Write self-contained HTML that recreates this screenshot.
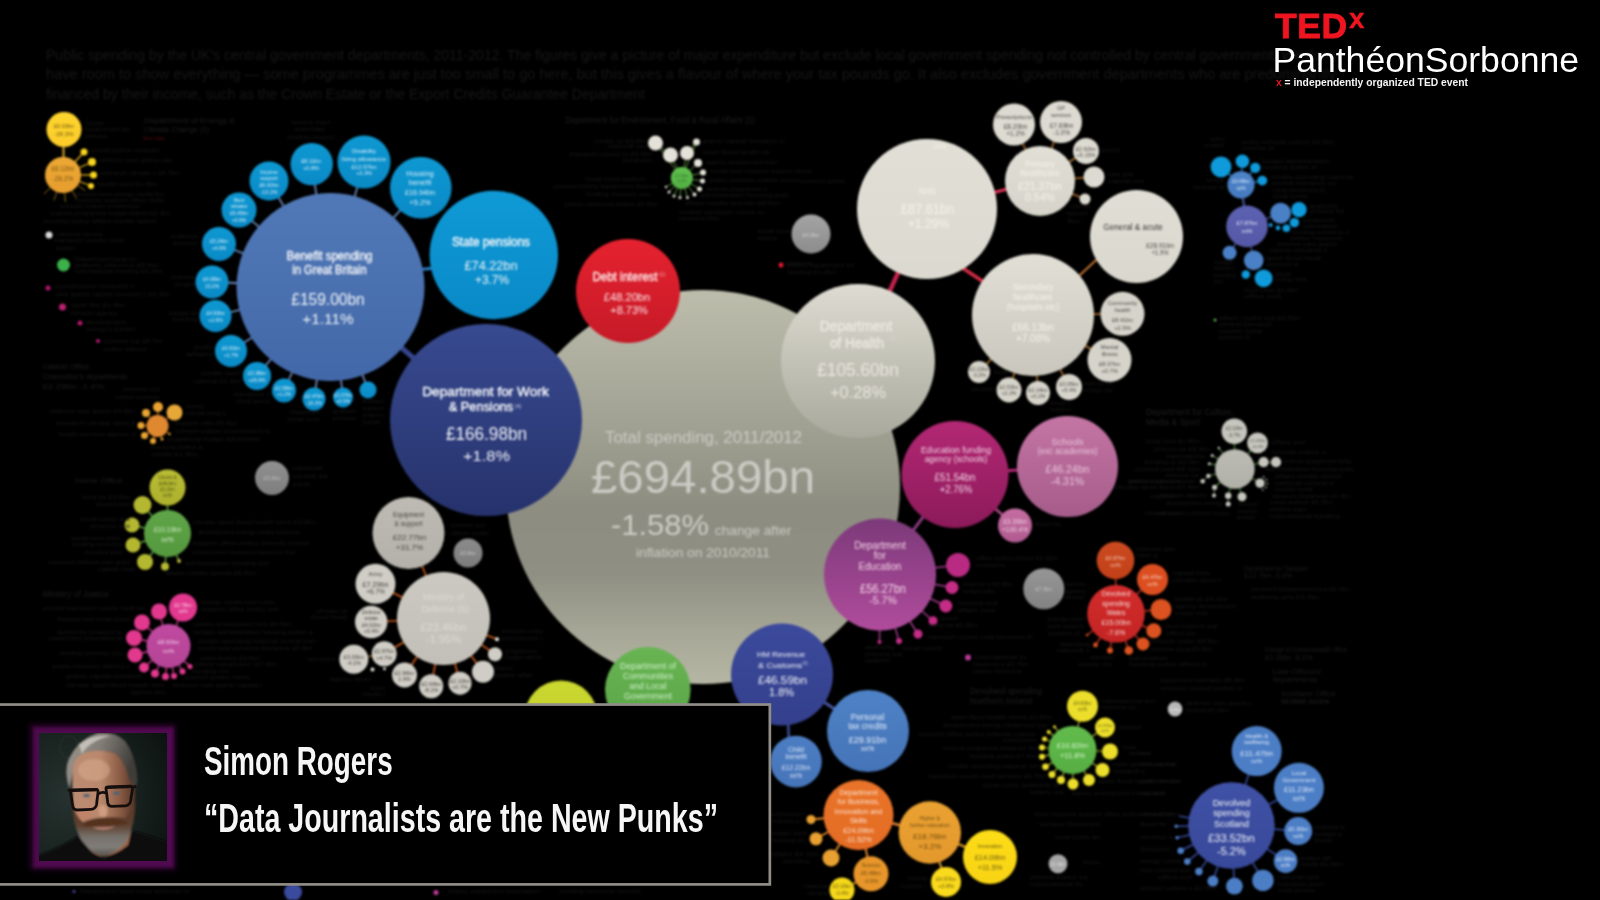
<!DOCTYPE html>
<html><head><meta charset="utf-8"><title>TEDx</title>
<style>
html,body{margin:0;padding:0;background:#000;}
body{width:1600px;height:900px;overflow:hidden;position:relative;font-family:"Liberation Sans",sans-serif;}
svg.chart{position:absolute;left:0;top:0;filter:blur(0.9px);}
#lt{position:absolute;left:0;top:706px;width:768px;height:177px;}
#ltbg{position:absolute;left:0;top:0;}
#ph{position:absolute;left:39px;top:27px;width:128px;height:128px;background:#16211f;box-shadow:0 0 3px 6.5px #500a4f,0 0 5px 9px rgba(80,10,79,.5);overflow:hidden;}
.nm{position:absolute;left:203.6px;color:#f6f6f6;font-weight:bold;font-size:40.5px;line-height:42px;white-space:nowrap;transform-origin:0 0;transform:scaleX(.687);}
#n1{top:34.4px;}
#n2{top:91px;transform:scaleX(.707);}
#ted{filter:blur(.35px);position:absolute;left:1274px;top:0;color:#fff;}
#ted .t{position:absolute;left:1px;top:6.3px;font-weight:bold;font-size:35.4px;color:#ee1520;letter-spacing:.7px;-webkit-text-stroke:.9px #ee1520;line-height:40px;white-space:nowrap;}
#ted .x{position:absolute;left:75px;top:-.8px;font-weight:bold;font-size:27.8px;color:#ee1520;-webkit-text-stroke:.4px #ee1520;line-height:40px;}
#ted .p{position:absolute;left:-1.6px;top:40px;font-size:35.6px;line-height:40px;white-space:nowrap;color:#fff;}
#ted .s{position:absolute;left:2px;top:75px;font-size:10.3px;line-height:16px;white-space:nowrap;color:#f4f4f4;font-weight:bold;}
#ted .s b{color:#e01a24;}
</style></head>
<body>
<svg class="chart" width="1600" height="900" viewBox="0 0 1600 900" font-family="Liberation Sans, sans-serif">
<defs>
<linearGradient id="g1" x1="0" y1="0" x2="0" y2="1"><stop offset="0" stop-color="#bcbdab"/><stop offset="0.3" stop-color="#a5a597"/><stop offset="0.55" stop-color="#8d8d81"/><stop offset="0.72" stop-color="#8f8f83"/><stop offset="0.87" stop-color="#a7a797"/><stop offset="1" stop-color="#b6b6a4"/></linearGradient>
<linearGradient id="g2" x1="0" y1="0" x2="0" y2="1"><stop offset="0" stop-color="#5179b7"/><stop offset="1" stop-color="#4368a9"/></linearGradient>
<linearGradient id="g3" x1="0" y1="0" x2="0" y2="1"><stop offset="0" stop-color="#0e98d2"/><stop offset="1" stop-color="#0a8ac6"/></linearGradient>
<linearGradient id="g4" x1="0" y1="0" x2="0" y2="1"><stop offset="0" stop-color="#0e98d2"/><stop offset="1" stop-color="#0a8ac6"/></linearGradient>
<linearGradient id="g5" x1="0" y1="0" x2="0" y2="1"><stop offset="0" stop-color="#0e98d2"/><stop offset="1" stop-color="#0a8ac6"/></linearGradient>
<linearGradient id="g6" x1="0" y1="0" x2="0" y2="1"><stop offset="0" stop-color="#0e98d2"/><stop offset="1" stop-color="#0a8ac6"/></linearGradient>
<linearGradient id="g7" x1="0" y1="0" x2="0" y2="1"><stop offset="0" stop-color="#0e98d2"/><stop offset="1" stop-color="#0a8ac6"/></linearGradient>
<linearGradient id="g8" x1="0" y1="0" x2="0" y2="1"><stop offset="0" stop-color="#0e98d2"/><stop offset="1" stop-color="#0a8ac6"/></linearGradient>
<linearGradient id="g9" x1="0" y1="0" x2="0" y2="1"><stop offset="0" stop-color="#0e98d2"/><stop offset="1" stop-color="#0a8ac6"/></linearGradient>
<linearGradient id="g10" x1="0" y1="0" x2="0" y2="1"><stop offset="0" stop-color="#0e98d2"/><stop offset="1" stop-color="#0a8ac6"/></linearGradient>
<linearGradient id="g11" x1="0" y1="0" x2="0" y2="1"><stop offset="0" stop-color="#0e98d2"/><stop offset="1" stop-color="#0a8ac6"/></linearGradient>
<linearGradient id="g12" x1="0" y1="0" x2="0" y2="1"><stop offset="0" stop-color="#0e98d2"/><stop offset="1" stop-color="#0a8ac6"/></linearGradient>
<linearGradient id="g13" x1="0" y1="0" x2="0" y2="1"><stop offset="0" stop-color="#0e98d2"/><stop offset="1" stop-color="#0a8ac6"/></linearGradient>
<linearGradient id="g14" x1="0" y1="0" x2="0" y2="1"><stop offset="0" stop-color="#0e98d2"/><stop offset="1" stop-color="#0a8ac6"/></linearGradient>
<linearGradient id="g15" x1="0" y1="0" x2="0" y2="1"><stop offset="0" stop-color="#0e98d2"/><stop offset="1" stop-color="#0a8ac6"/></linearGradient>
<linearGradient id="g16" x1="0" y1="0" x2="0" y2="1"><stop offset="0" stop-color="#0e98d2"/><stop offset="1" stop-color="#0a8ac6"/></linearGradient>
<linearGradient id="g17" x1="0" y1="0" x2="0" y2="1"><stop offset="0" stop-color="#0f9ad6"/><stop offset="1" stop-color="#0a8ac8"/></linearGradient>
<linearGradient id="g18" x1="0" y1="0" x2="0" y2="1"><stop offset="0" stop-color="#384a90"/><stop offset="1" stop-color="#26326c"/></linearGradient>
<linearGradient id="g19" x1="0" y1="0" x2="0" y2="1"><stop offset="0" stop-color="#e6222f"/><stop offset="1" stop-color="#c61a28"/></linearGradient>
<linearGradient id="g20" x1="0" y1="0" x2="0" y2="1"><stop offset="0" stop-color="#dedcd2"/><stop offset="1" stop-color="#a9a99d"/></linearGradient>
<linearGradient id="g21" x1="0" y1="0" x2="0" y2="1"><stop offset="0" stop-color="#e2e0d6"/><stop offset="1" stop-color="#dcdad0"/></linearGradient>
<linearGradient id="g22" x1="0" y1="0" x2="0" y2="1"><stop offset="0" stop-color="#e2e0d6"/><stop offset="1" stop-color="#d6d4ca"/></linearGradient>
<linearGradient id="g23" x1="0" y1="0" x2="0" y2="1"><stop offset="0" stop-color="#e2e0d6"/><stop offset="1" stop-color="#c9c7bd"/></linearGradient>
<linearGradient id="g24" x1="0" y1="0" x2="0" y2="1"><stop offset="0" stop-color="#e1dfd5"/><stop offset="1" stop-color="#dad8ce"/></linearGradient>
<linearGradient id="g25" x1="0" y1="0" x2="0" y2="1"><stop offset="0" stop-color="#a4a4a4"/><stop offset="1" stop-color="#8c8c8c"/></linearGradient>
<linearGradient id="g26" x1="0" y1="0" x2="0" y2="1"><stop offset="0" stop-color="#b32874"/><stop offset="1" stop-color="#8c1a5a"/></linearGradient>
<linearGradient id="g27" x1="0" y1="0" x2="0" y2="1"><stop offset="0" stop-color="#c475a4"/><stop offset="1" stop-color="#a65c8a"/></linearGradient>
<linearGradient id="g28" x1="0" y1="0" x2="0" y2="1"><stop offset="0" stop-color="#7c3a7a"/><stop offset="1" stop-color="#b04c9c"/></linearGradient>
<linearGradient id="g29" x1="0" y1="0" x2="0" y2="1"><stop offset="0" stop-color="#c66ea2"/><stop offset="1" stop-color="#b05a90"/></linearGradient>
<linearGradient id="g30" x1="0" y1="0" x2="0" y2="1"><stop offset="0" stop-color="#3c4a9c"/><stop offset="1" stop-color="#34408c"/></linearGradient>
<linearGradient id="g31" x1="0" y1="0" x2="0" y2="1"><stop offset="0" stop-color="#4e82c6"/><stop offset="1" stop-color="#4674b8"/></linearGradient>
<linearGradient id="g32" x1="0" y1="0" x2="0" y2="1"><stop offset="0" stop-color="#4c7ec4"/><stop offset="1" stop-color="#4674b8"/></linearGradient>
<linearGradient id="g33" x1="0" y1="0" x2="0" y2="1"><stop offset="0" stop-color="#68b452"/><stop offset="1" stop-color="#5aa648"/></linearGradient>
<linearGradient id="g34" x1="0" y1="0" x2="0" y2="1"><stop offset="0" stop-color="#cad830"/><stop offset="1" stop-color="#c0cc2a"/></linearGradient>
<linearGradient id="g35" x1="0" y1="0" x2="0" y2="1"><stop offset="0" stop-color="#cbc9c1"/><stop offset="1" stop-color="#c1bfb7"/></linearGradient>
<linearGradient id="g36" x1="0" y1="0" x2="0" y2="1"><stop offset="0" stop-color="#bdbbb3"/><stop offset="1" stop-color="#b3b1a9"/></linearGradient>
<linearGradient id="g37" x1="0" y1="0" x2="0" y2="1"><stop offset="0" stop-color="#8c8c8c"/><stop offset="1" stop-color="#7c7c7c"/></linearGradient>
<linearGradient id="g38" x1="0" y1="0" x2="0" y2="1"><stop offset="0" stop-color="#909090"/><stop offset="1" stop-color="#7e7e7e"/></linearGradient>
<linearGradient id="g39" x1="0" y1="0" x2="0" y2="1"><stop offset="0" stop-color="#ea742a"/><stop offset="1" stop-color="#e46c24"/></linearGradient>
<linearGradient id="g40" x1="0" y1="0" x2="0" y2="1"><stop offset="0" stop-color="#eaa232"/><stop offset="1" stop-color="#e4982c"/></linearGradient>
<linearGradient id="g41" x1="0" y1="0" x2="0" y2="1"><stop offset="0" stop-color="#fddc18"/><stop offset="1" stop-color="#f8d414"/></linearGradient>
<linearGradient id="g42" x1="0" y1="0" x2="0" y2="1"><stop offset="0" stop-color="#d22c2c"/><stop offset="1" stop-color="#c42424"/></linearGradient>
<linearGradient id="g43" x1="0" y1="0" x2="0" y2="1"><stop offset="0" stop-color="#cc4a20"/><stop offset="1" stop-color="#c24018"/></linearGradient>
<linearGradient id="g44" x1="0" y1="0" x2="0" y2="1"><stop offset="0" stop-color="#969696"/><stop offset="1" stop-color="#828282"/></linearGradient>
<linearGradient id="g45" x1="0" y1="0" x2="0" y2="1"><stop offset="0" stop-color="#4052a6"/><stop offset="1" stop-color="#38489a"/></linearGradient>
<linearGradient id="g46" x1="0" y1="0" x2="0" y2="1"><stop offset="0" stop-color="#62bc4c"/><stop offset="1" stop-color="#56ae44"/></linearGradient>
<linearGradient id="g47" x1="0" y1="0" x2="0" y2="1"><stop offset="0" stop-color="#5fa648"/><stop offset="1" stop-color="#55983e"/></linearGradient>
<linearGradient id="g48" x1="0" y1="0" x2="0" y2="1"><stop offset="0" stop-color="#b9bc34"/><stop offset="1" stop-color="#adb02c"/></linearGradient>
<linearGradient id="g49" x1="0" y1="0" x2="0" y2="1"><stop offset="0" stop-color="#c04aa0"/><stop offset="1" stop-color="#b44496"/></linearGradient>
<linearGradient id="g50" x1="0" y1="0" x2="0" y2="1"><stop offset="0" stop-color="#fed42e"/><stop offset="1" stop-color="#fccc2a"/></linearGradient>
<linearGradient id="g51" x1="0" y1="0" x2="0" y2="1"><stop offset="0" stop-color="#eca834"/><stop offset="1" stop-color="#e69e2e"/></linearGradient>
<linearGradient id="g52" x1="0" y1="0" x2="0" y2="1"><stop offset="0" stop-color="#5fc04e"/><stop offset="1" stop-color="#52b044"/></linearGradient>
<linearGradient id="g53" x1="0" y1="0" x2="0" y2="1"><stop offset="0" stop-color="#5c62b2"/><stop offset="1" stop-color="#5458a6"/></linearGradient>
<linearGradient id="g54" x1="0" y1="0" x2="0" y2="1"><stop offset="0" stop-color="#4c84ca"/><stop offset="1" stop-color="#467ac0"/></linearGradient>
<linearGradient id="g55" x1="0" y1="0" x2="0" y2="1"><stop offset="0" stop-color="#bcbcb4"/><stop offset="1" stop-color="#b0b0a8"/></linearGradient>
</defs>
<text x="46.0" y="59.5" font-size="14.2" fill="#171717" text-anchor="start" textLength="1290.0" lengthAdjust="spacingAndGlyphs">Public spending by the UK's central government departments, 2011-2012. The figures give a picture of major expenditure but exclude local government spending not controlled by central government. We don't</text>
<text x="46.0" y="79.0" font-size="14.2" fill="#171717" text-anchor="start" textLength="1290.0" lengthAdjust="spacingAndGlyphs">have room to show everything — some programmes are just too small to go here, but this gives a flavour of where your tax pounds go. It also excludes government departments who are predominantly</text>
<text x="46.0" y="98.5" font-size="14.2" fill="#171717" text-anchor="start" textLength="599.0" lengthAdjust="spacingAndGlyphs">financed by their income, such as the Crown Estate or the Export Credits Guarantee Department</text>
<circle cx="703.0" cy="487.0" r="197.0" fill="url(#g1)"/>
<line x1="330.5" y1="287.0" x2="486.0" y2="420.0" stroke="#34458c" stroke-width="5.0"/>
<line x1="415.0" y1="270.0" x2="435.0" y2="268.0" stroke="#2a7cc0" stroke-width="3.0"/>
<line x1="330.5" y1="287.0" x2="420.8" y2="187.7" stroke="#6a84b4" stroke-width="1.8"/>
<line x1="330.5" y1="287.0" x2="364.0" y2="162.0" stroke="#6a84b4" stroke-width="1.8"/>
<line x1="330.5" y1="287.0" x2="311.7" y2="164.1" stroke="#6a84b4" stroke-width="1.8"/>
<line x1="330.5" y1="287.0" x2="269.0" y2="181.0" stroke="#6a84b4" stroke-width="1.8"/>
<line x1="330.5" y1="287.0" x2="239.0" y2="210.0" stroke="#6a84b4" stroke-width="1.8"/>
<line x1="330.5" y1="287.0" x2="219.0" y2="244.0" stroke="#6a84b4" stroke-width="1.8"/>
<line x1="330.5" y1="287.0" x2="212.0" y2="282.0" stroke="#6a84b4" stroke-width="1.8"/>
<line x1="330.5" y1="287.0" x2="215.5" y2="316.0" stroke="#6a84b4" stroke-width="1.8"/>
<line x1="330.5" y1="287.0" x2="231.0" y2="351.0" stroke="#6a84b4" stroke-width="1.8"/>
<line x1="330.5" y1="287.0" x2="257.0" y2="376.0" stroke="#6a84b4" stroke-width="1.8"/>
<line x1="330.5" y1="287.0" x2="284.0" y2="390.5" stroke="#6a84b4" stroke-width="1.8"/>
<line x1="330.5" y1="287.0" x2="314.0" y2="399.0" stroke="#6a84b4" stroke-width="1.8"/>
<line x1="330.5" y1="287.0" x2="343.0" y2="397.5" stroke="#6a84b4" stroke-width="1.8"/>
<line x1="330.5" y1="287.0" x2="368.0" y2="390.0" stroke="#6a84b4" stroke-width="1.8"/>
<line x1="858.0" y1="361.0" x2="927.0" y2="209.0" stroke="#c4224a" stroke-width="4.5"/>
<line x1="927.0" y1="209.0" x2="1040.0" y2="181.0" stroke="#e8315a" stroke-width="3.0"/>
<line x1="955.0" y1="263.0" x2="992.0" y2="287.5" stroke="#d42a45" stroke-width="3.5"/>
<line x1="1101.0" y1="255.5" x2="1073.0" y2="281.5" stroke="#c87830" stroke-width="1.8"/>
<line x1="1040.0" y1="181.0" x2="1014.0" y2="124.5" stroke="#b07030" stroke-width="1.5"/>
<line x1="1040.0" y1="181.0" x2="1061.0" y2="122.0" stroke="#b07030" stroke-width="1.5"/>
<line x1="1040.0" y1="181.0" x2="1086.0" y2="151.0" stroke="#b07030" stroke-width="1.5"/>
<line x1="1040.0" y1="181.0" x2="1094.0" y2="177.0" stroke="#b07030" stroke-width="1.5"/>
<line x1="1040.0" y1="181.0" x2="1085.0" y2="199.0" stroke="#b07030" stroke-width="1.5"/>
<line x1="1033.0" y1="315.0" x2="1122.5" y2="313.8" stroke="#b87830" stroke-width="1.5"/>
<line x1="1033.0" y1="315.0" x2="1109.5" y2="360.0" stroke="#b87830" stroke-width="1.5"/>
<line x1="1033.0" y1="315.0" x2="979.0" y2="372.0" stroke="#b87830" stroke-width="1.5"/>
<line x1="1033.0" y1="315.0" x2="1009.0" y2="390.0" stroke="#b87830" stroke-width="1.5"/>
<line x1="1033.0" y1="315.0" x2="1038.0" y2="393.0" stroke="#b87830" stroke-width="1.5"/>
<line x1="1033.0" y1="315.0" x2="1069.0" y2="387.0" stroke="#b87830" stroke-width="1.5"/>
<line x1="955.0" y1="474.5" x2="1067.5" y2="466.5" stroke="#b02878" stroke-width="3.0"/>
<line x1="955.0" y1="474.5" x2="880.0" y2="574.5" stroke="#8a3a80" stroke-width="3.0"/>
<line x1="955.0" y1="474.5" x2="1015.0" y2="525.5" stroke="#b04a8a" stroke-width="2.5"/>
<line x1="880.0" y1="574.5" x2="958.0" y2="565.0" stroke="#a03a88" stroke-width="1.5"/>
<line x1="880.0" y1="574.5" x2="952.0" y2="587.5" stroke="#a03a88" stroke-width="1.5"/>
<line x1="880.0" y1="574.5" x2="945.8" y2="606.0" stroke="#a03a88" stroke-width="1.5"/>
<line x1="880.0" y1="574.5" x2="933.0" y2="620.8" stroke="#a03a88" stroke-width="1.5"/>
<line x1="880.0" y1="574.5" x2="918.0" y2="634.0" stroke="#a03a88" stroke-width="1.5"/>
<line x1="880.0" y1="574.5" x2="899.0" y2="641.0" stroke="#a03a88" stroke-width="1.5"/>
<line x1="880.0" y1="574.5" x2="879.5" y2="642.0" stroke="#a03a88" stroke-width="1.5"/>
<line x1="782.0" y1="674.5" x2="868.0" y2="731.0" stroke="#4656a2" stroke-width="2.8"/>
<line x1="788.0" y1="720.0" x2="789.0" y2="742.0" stroke="#3c4c94" stroke-width="2.6"/>
<line x1="443.5" y1="618.5" x2="408.5" y2="533.0" stroke="#d05a1e" stroke-width="1.6"/>
<line x1="443.5" y1="618.5" x2="375.5" y2="583.8" stroke="#d05a1e" stroke-width="1.6"/>
<line x1="443.5" y1="618.5" x2="371.2" y2="622.0" stroke="#d05a1e" stroke-width="1.6"/>
<line x1="443.5" y1="618.5" x2="384.2" y2="653.8" stroke="#d05a1e" stroke-width="1.6"/>
<line x1="443.5" y1="618.5" x2="404.5" y2="675.0" stroke="#d05a1e" stroke-width="1.6"/>
<line x1="443.5" y1="618.5" x2="431.2" y2="686.2" stroke="#d05a1e" stroke-width="1.6"/>
<line x1="443.5" y1="618.5" x2="460.0" y2="683.2" stroke="#d05a1e" stroke-width="1.6"/>
<line x1="443.5" y1="618.5" x2="483.0" y2="671.8" stroke="#d05a1e" stroke-width="1.6"/>
<line x1="443.5" y1="618.5" x2="495.0" y2="654.2" stroke="#d05a1e" stroke-width="1.6"/>
<line x1="443.5" y1="618.5" x2="497.0" y2="639.2" stroke="#d05a1e" stroke-width="1.6"/>
<line x1="353.8" y1="659.2" x2="384.2" y2="653.8" stroke="#a06a30" stroke-width="1.2"/>
<line x1="858.5" y1="815.0" x2="929.8" y2="832.5" stroke="#e08030" stroke-width="2.5"/>
<line x1="929.8" y1="832.5" x2="990.0" y2="857.0" stroke="#e0a030" stroke-width="2.0"/>
<line x1="929.8" y1="832.5" x2="946.0" y2="882.0" stroke="#d8a030" stroke-width="2.0"/>
<line x1="858.5" y1="815.0" x2="871.0" y2="873.8" stroke="#e0802a" stroke-width="2.0"/>
<line x1="871.0" y1="873.8" x2="842.0" y2="890.0" stroke="#d8a030" stroke-width="1.5"/>
<line x1="858.5" y1="815.0" x2="811.0" y2="819.5" stroke="#e08a2a" stroke-width="1.8"/>
<line x1="858.5" y1="815.0" x2="816.0" y2="838.8" stroke="#e08a2a" stroke-width="1.8"/>
<line x1="858.5" y1="815.0" x2="831.0" y2="858.0" stroke="#e08a2a" stroke-width="1.8"/>
<line x1="1116.0" y1="613.8" x2="1115.5" y2="560.5" stroke="#b0301e" stroke-width="1.5"/>
<line x1="1116.0" y1="613.8" x2="1152.5" y2="579.5" stroke="#b0301e" stroke-width="1.5"/>
<line x1="1116.0" y1="613.8" x2="1161.0" y2="609.5" stroke="#b0301e" stroke-width="1.5"/>
<line x1="1116.0" y1="613.8" x2="1153.8" y2="630.8" stroke="#b0301e" stroke-width="1.5"/>
<line x1="1116.0" y1="613.8" x2="1143.0" y2="644.0" stroke="#b0301e" stroke-width="1.5"/>
<line x1="1116.0" y1="613.8" x2="1128.8" y2="650.5" stroke="#b0301e" stroke-width="1.5"/>
<line x1="1116.0" y1="613.8" x2="1110.0" y2="650.5" stroke="#b0301e" stroke-width="1.5"/>
<line x1="1116.0" y1="613.8" x2="1095.5" y2="645.0" stroke="#b0301e" stroke-width="1.5"/>
<line x1="1116.0" y1="613.8" x2="1087.0" y2="635.0" stroke="#b0301e" stroke-width="1.5"/>
<line x1="1231.4" y1="825.5" x2="1256.7" y2="751.1" stroke="#364a9c" stroke-width="1.6"/>
<line x1="1231.4" y1="825.5" x2="1298.9" y2="787.8" stroke="#364a9c" stroke-width="1.6"/>
<line x1="1231.4" y1="825.5" x2="1298.2" y2="831.1" stroke="#364a9c" stroke-width="1.6"/>
<line x1="1231.4" y1="825.5" x2="1285.6" y2="861.1" stroke="#364a9c" stroke-width="1.6"/>
<line x1="1231.4" y1="825.5" x2="1262.9" y2="880.4" stroke="#364a9c" stroke-width="1.6"/>
<line x1="1231.4" y1="825.5" x2="1234.4" y2="886.2" stroke="#364a9c" stroke-width="1.6"/>
<line x1="1231.4" y1="825.5" x2="1212.9" y2="881.1" stroke="#364a9c" stroke-width="1.6"/>
<line x1="1231.4" y1="825.5" x2="1198.9" y2="871.6" stroke="#364a9c" stroke-width="1.6"/>
<line x1="1231.4" y1="825.5" x2="1187.3" y2="861.6" stroke="#364a9c" stroke-width="1.6"/>
<line x1="1231.4" y1="825.5" x2="1180.7" y2="850.7" stroke="#364a9c" stroke-width="1.6"/>
<line x1="1231.4" y1="825.5" x2="1177.1" y2="837.8" stroke="#364a9c" stroke-width="1.6"/>
<line x1="1231.4" y1="825.5" x2="1176.2" y2="826.2" stroke="#364a9c" stroke-width="1.6"/>
<line x1="1231.4" y1="825.5" x2="1179.0" y2="816.0" stroke="#364a9c" stroke-width="1.6"/>
<line x1="1072.5" y1="750.0" x2="1082.5" y2="706.3" stroke="#a8b030" stroke-width="1.2"/>
<line x1="1072.5" y1="750.0" x2="1105.0" y2="727.5" stroke="#a8b030" stroke-width="1.2"/>
<line x1="1072.5" y1="750.0" x2="1110.0" y2="751.5" stroke="#a8b030" stroke-width="1.2"/>
<line x1="1072.5" y1="750.0" x2="1102.5" y2="770.0" stroke="#a8b030" stroke-width="1.2"/>
<line x1="1072.5" y1="750.0" x2="1089.0" y2="780.0" stroke="#a8b030" stroke-width="1.2"/>
<line x1="1072.5" y1="750.0" x2="1073.0" y2="784.0" stroke="#a8b030" stroke-width="1.2"/>
<line x1="1072.5" y1="750.0" x2="1061.0" y2="780.0" stroke="#a8b030" stroke-width="1.2"/>
<line x1="1072.5" y1="750.0" x2="1052.0" y2="774.5" stroke="#a8b030" stroke-width="1.2"/>
<line x1="1072.5" y1="750.0" x2="1045.5" y2="766.7" stroke="#a8b030" stroke-width="1.2"/>
<line x1="1072.5" y1="750.0" x2="1042.0" y2="756.7" stroke="#a8b030" stroke-width="1.2"/>
<line x1="1072.5" y1="750.0" x2="1042.0" y2="747.5" stroke="#a8b030" stroke-width="1.2"/>
<line x1="1072.5" y1="750.0" x2="1044.5" y2="739.0" stroke="#a8b030" stroke-width="1.2"/>
<line x1="1072.5" y1="750.0" x2="1048.7" y2="732.0" stroke="#a8b030" stroke-width="1.2"/>
<line x1="1072.5" y1="750.0" x2="1054.5" y2="726.7" stroke="#a8b030" stroke-width="1.2"/>
<circle cx="330.5" cy="287.0" r="94.0" fill="url(#g2)"/>
<circle cx="420.8" cy="187.7" r="30.8" fill="url(#g3)"/>
<circle cx="364.0" cy="162.0" r="26.5" fill="url(#g4)"/>
<circle cx="311.7" cy="164.1" r="21.2" fill="url(#g5)"/>
<circle cx="269.0" cy="181.0" r="19.5" fill="url(#g6)"/>
<circle cx="239.0" cy="210.0" r="17.5" fill="url(#g7)"/>
<circle cx="219.0" cy="244.0" r="17.0" fill="url(#g8)"/>
<circle cx="212.0" cy="282.0" r="16.5" fill="url(#g9)"/>
<circle cx="215.5" cy="316.0" r="16.0" fill="url(#g10)"/>
<circle cx="231.0" cy="351.0" r="16.0" fill="url(#g11)"/>
<circle cx="257.0" cy="376.0" r="14.0" fill="url(#g12)"/>
<circle cx="284.0" cy="390.5" r="12.0" fill="url(#g13)"/>
<circle cx="314.0" cy="399.0" r="11.5" fill="url(#g14)"/>
<circle cx="343.0" cy="397.5" r="10.0" fill="url(#g15)"/>
<circle cx="368.0" cy="390.0" r="8.5" fill="url(#g16)"/>
<circle cx="493.8" cy="255.0" r="64.2" fill="url(#g17)"/>
<circle cx="486.0" cy="420.0" r="96.0" fill="url(#g18)"/>
<circle cx="628.0" cy="291.0" r="52.0" fill="url(#g19)"/>
<circle cx="858.0" cy="361.0" r="77.0" fill="url(#g20)"/>
<circle cx="927.0" cy="209.0" r="70.0" fill="url(#g21)"/>
<circle cx="1040.0" cy="181.0" r="35.0" fill="url(#g22)"/>
<circle cx="1033.0" cy="315.0" r="61.0" fill="url(#g23)"/>
<circle cx="1136.5" cy="236.5" r="46.5" fill="url(#g24)"/>
<circle cx="1014.0" cy="124.5" r="21.0" fill="#dddbd1"/>
<circle cx="1061.0" cy="122.0" r="21.0" fill="#dddbd1"/>
<circle cx="1086.0" cy="151.0" r="13.0" fill="#dddbd1"/>
<circle cx="1094.0" cy="177.0" r="10.5" fill="#dddbd1"/>
<circle cx="1085.0" cy="199.0" r="5.5" fill="#dddbd1"/>
<circle cx="1122.5" cy="313.8" r="22.0" fill="#d6d4ca"/>
<circle cx="1109.5" cy="360.0" r="22.0" fill="#d6d4ca"/>
<circle cx="979.0" cy="372.0" r="11.0" fill="#d6d4ca"/>
<circle cx="1009.0" cy="390.0" r="12.5" fill="#d6d4ca"/>
<circle cx="1038.0" cy="393.0" r="12.0" fill="#d6d4ca"/>
<circle cx="1069.0" cy="387.0" r="13.0" fill="#d6d4ca"/>
<circle cx="811.0" cy="234.0" r="19.5" fill="url(#g25)"/>
<circle cx="955.0" cy="474.5" r="53.5" fill="url(#g26)"/>
<circle cx="1067.5" cy="466.5" r="50.5" fill="url(#g27)"/>
<circle cx="880.0" cy="574.5" r="56.0" fill="url(#g28)"/>
<circle cx="1015.0" cy="525.5" r="17.0" fill="url(#g29)"/>
<circle cx="958.0" cy="565.0" r="12.0" fill="#b92a82"/>
<circle cx="952.0" cy="587.5" r="6.5" fill="#c42c86"/>
<circle cx="945.8" cy="606.0" r="6.5" fill="#c42c86"/>
<circle cx="933.0" cy="620.8" r="4.5" fill="#c42c86"/>
<circle cx="918.0" cy="634.0" r="4.5" fill="#c42c86"/>
<circle cx="899.0" cy="641.0" r="3.0" fill="#c42c86"/>
<circle cx="879.5" cy="642.0" r="2.0" fill="#c42c86"/>
<circle cx="782.0" cy="674.5" r="51.0" fill="url(#g30)"/>
<circle cx="868.0" cy="731.0" r="41.0" fill="url(#g31)"/>
<circle cx="796.0" cy="761.6" r="25.8" fill="url(#g32)"/>
<circle cx="647.8" cy="689.8" r="42.8" fill="url(#g33)"/>
<circle cx="561.0" cy="717.0" r="36.5" fill="url(#g34)"/>
<circle cx="443.5" cy="618.5" r="46.5" fill="url(#g35)"/>
<circle cx="408.5" cy="533.0" r="36.0" fill="url(#g36)"/>
<circle cx="375.5" cy="583.8" r="20.0" fill="#cfcdc5"/>
<circle cx="371.2" cy="622.0" r="16.2" fill="#cfcdc5"/>
<circle cx="384.2" cy="653.8" r="12.5" fill="#cfcdc5"/>
<circle cx="404.5" cy="675.0" r="12.5" fill="#cfcdc5"/>
<circle cx="431.2" cy="686.2" r="12.0" fill="#cfcdc5"/>
<circle cx="460.0" cy="683.2" r="11.5" fill="#cfcdc5"/>
<circle cx="483.0" cy="671.8" r="11.0" fill="#cfcdc5"/>
<circle cx="495.0" cy="654.2" r="7.0" fill="#cfcdc5"/>
<circle cx="497.0" cy="639.2" r="2.0" fill="#e8e6de"/>
<circle cx="353.8" cy="659.2" r="14.5" fill="#cfcdc5"/>
<circle cx="372.5" cy="669.5" r="2.0" fill="#deded6"/>
<circle cx="384.5" cy="668.8" r="1.5" fill="#deded6"/>
<circle cx="468.0" cy="553.0" r="14.5" fill="url(#g37)"/>
<circle cx="272.0" cy="478.0" r="17.0" fill="url(#g38)"/>
<circle cx="858.5" cy="815.0" r="35.0" fill="url(#g39)"/>
<circle cx="929.8" cy="832.5" r="31.2" fill="url(#g40)"/>
<circle cx="990.0" cy="857.0" r="27.0" fill="url(#g41)"/>
<circle cx="871.0" cy="873.8" r="17.5" fill="#e8962a"/>
<circle cx="946.0" cy="882.0" r="15.0" fill="#fada1c"/>
<circle cx="842.0" cy="890.0" r="12.5" fill="#f5d81a"/>
<circle cx="811.0" cy="819.5" r="4.5" fill="#e8a030"/>
<circle cx="816.0" cy="838.8" r="6.5" fill="#e8a030"/>
<circle cx="831.0" cy="858.0" r="8.5" fill="#e8a030"/>
<circle cx="1058.0" cy="863.8" r="9.5" fill="#a6a6a6"/>
<circle cx="1116.0" cy="613.8" r="28.8" fill="url(#g42)"/>
<circle cx="1115.5" cy="560.5" r="18.8" fill="url(#g43)"/>
<circle cx="1152.5" cy="579.5" r="15.5" fill="#dc4e20"/>
<circle cx="1161.0" cy="609.5" r="10.5" fill="#dc5220"/>
<circle cx="1153.8" cy="630.8" r="7.5" fill="#dc5220"/>
<circle cx="1143.0" cy="644.0" r="6.5" fill="#dc5220"/>
<circle cx="1128.8" cy="650.5" r="4.3" fill="#dc5220"/>
<circle cx="1110.0" cy="650.5" r="3.0" fill="#dc5220"/>
<circle cx="1095.5" cy="645.0" r="2.4" fill="#dc5220"/>
<circle cx="1087.0" cy="635.0" r="1.3" fill="#dc5220"/>
<circle cx="1043.8" cy="588.8" r="20.5" fill="url(#g44)"/>
<circle cx="1231.4" cy="825.5" r="43.3" fill="url(#g45)"/>
<circle cx="1256.7" cy="751.1" r="25.0" fill="#4c7ec6"/>
<circle cx="1298.9" cy="787.8" r="25.0" fill="#4c7ec6"/>
<circle cx="1298.2" cy="831.1" r="14.0" fill="#4c7ec6"/>
<circle cx="1285.6" cy="861.1" r="11.8" fill="#4c7ec6"/>
<circle cx="1262.9" cy="880.4" r="10.7" fill="#4c7ec6"/>
<circle cx="1234.4" cy="886.2" r="8.4" fill="#4c7ec6"/>
<circle cx="1212.9" cy="881.1" r="5.5" fill="#4c7ec6"/>
<circle cx="1198.9" cy="871.6" r="3.8" fill="#4c7ec6"/>
<circle cx="1187.3" cy="861.6" r="3.3" fill="#4c7ec6"/>
<circle cx="1180.7" cy="850.7" r="3.3" fill="#4c7ec6"/>
<circle cx="1177.1" cy="837.8" r="1.8" fill="#4c7ec6"/>
<circle cx="1176.2" cy="826.2" r="1.8" fill="#4c7ec6"/>
<circle cx="1175.0" cy="709.0" r="7.4" fill="#b8b8b8"/>
<circle cx="1072.5" cy="750.0" r="24.0" fill="url(#g46)"/>
<circle cx="1082.5" cy="706.3" r="15.5" fill="#ecde2a"/>
<circle cx="1105.0" cy="727.5" r="10.0" fill="#ecde2a"/>
<circle cx="1110.0" cy="751.5" r="8.0" fill="#ecde2a"/>
<circle cx="1102.5" cy="770.0" r="7.0" fill="#ecde2a"/>
<circle cx="1089.0" cy="780.0" r="6.0" fill="#ecde2a"/>
<circle cx="1073.0" cy="784.0" r="5.5" fill="#ecde2a"/>
<circle cx="1061.0" cy="780.0" r="4.0" fill="#ecde2a"/>
<circle cx="1052.0" cy="774.5" r="3.5" fill="#ecde2a"/>
<circle cx="1045.5" cy="766.7" r="3.3" fill="#ecde2a"/>
<circle cx="1042.0" cy="756.7" r="3.0" fill="#ecde2a"/>
<circle cx="1042.0" cy="747.5" r="3.0" fill="#ecde2a"/>
<circle cx="1044.5" cy="739.0" r="2.5" fill="#ecde2a"/>
<circle cx="1048.7" cy="732.0" r="2.0" fill="#ecde2a"/>
<circle cx="1054.5" cy="726.7" r="1.5" fill="#ecde2a"/>
<line x1="167.5" y1="533.5" x2="167.5" y2="487.5" stroke="#5c9a40" stroke-width="1.5"/>
<line x1="167.5" y1="533.5" x2="142.5" y2="505.0" stroke="#5c9a40" stroke-width="1.5"/>
<line x1="167.5" y1="533.5" x2="132.0" y2="525.0" stroke="#5c9a40" stroke-width="1.5"/>
<line x1="167.5" y1="533.5" x2="133.0" y2="545.0" stroke="#5c9a40" stroke-width="1.5"/>
<line x1="167.5" y1="533.5" x2="145.0" y2="562.0" stroke="#5c9a40" stroke-width="1.5"/>
<line x1="167.5" y1="533.5" x2="165.0" y2="566.5" stroke="#5c9a40" stroke-width="1.5"/>
<line x1="167.5" y1="533.5" x2="179.0" y2="561.0" stroke="#5c9a40" stroke-width="1.5"/>
<circle cx="167.5" cy="533.5" r="23.5" fill="url(#g47)"/>
<circle cx="167.5" cy="487.5" r="18.0" fill="url(#g48)"/>
<circle cx="142.5" cy="505.0" r="9.0" fill="#b4b830"/>
<circle cx="132.0" cy="525.0" r="7.5" fill="#b4b830"/>
<circle cx="133.0" cy="545.0" r="7.5" fill="#b4b830"/>
<circle cx="145.0" cy="562.0" r="8.0" fill="#b4b830"/>
<circle cx="165.0" cy="566.5" r="4.0" fill="#b4b830"/>
<circle cx="179.0" cy="561.0" r="2.0" fill="#b4b830"/>
<line x1="168.5" y1="646.0" x2="183.0" y2="607.5" stroke="#c83888" stroke-width="1.3"/>
<line x1="168.5" y1="646.0" x2="159.0" y2="611.5" stroke="#c83888" stroke-width="1.3"/>
<line x1="168.5" y1="646.0" x2="142.0" y2="622.5" stroke="#c83888" stroke-width="1.3"/>
<line x1="168.5" y1="646.0" x2="134.0" y2="638.0" stroke="#c83888" stroke-width="1.3"/>
<line x1="168.5" y1="646.0" x2="135.0" y2="655.0" stroke="#c83888" stroke-width="1.3"/>
<line x1="168.5" y1="646.0" x2="144.0" y2="667.5" stroke="#c83888" stroke-width="1.3"/>
<line x1="168.5" y1="646.0" x2="155.0" y2="673.5" stroke="#c83888" stroke-width="1.3"/>
<line x1="168.5" y1="646.0" x2="165.5" y2="676.5" stroke="#c83888" stroke-width="1.3"/>
<line x1="168.5" y1="646.0" x2="174.0" y2="676.0" stroke="#c83888" stroke-width="1.3"/>
<line x1="168.5" y1="646.0" x2="182.5" y2="671.5" stroke="#c83888" stroke-width="1.3"/>
<line x1="168.5" y1="646.0" x2="190.0" y2="666.5" stroke="#c83888" stroke-width="1.3"/>
<circle cx="168.5" cy="646.0" r="22.0" fill="url(#g49)"/>
<circle cx="183.0" cy="607.5" r="14.0" fill="#e2388e"/>
<circle cx="159.0" cy="611.5" r="8.0" fill="#e2388e"/>
<circle cx="142.0" cy="622.5" r="8.0" fill="#e2388e"/>
<circle cx="134.0" cy="638.0" r="8.0" fill="#e2388e"/>
<circle cx="135.0" cy="655.0" r="7.5" fill="#e2388e"/>
<circle cx="144.0" cy="667.5" r="5.0" fill="#e2388e"/>
<circle cx="155.0" cy="673.5" r="4.0" fill="#e2388e"/>
<circle cx="165.5" cy="676.5" r="3.5" fill="#e2388e"/>
<circle cx="174.0" cy="676.0" r="3.0" fill="#e2388e"/>
<circle cx="182.5" cy="671.5" r="3.0" fill="#e2388e"/>
<circle cx="190.0" cy="666.5" r="2.5" fill="#e2388e"/>
<line x1="157.5" y1="426.0" x2="174.5" y2="412.5" stroke="#d88a2a" stroke-width="1.0"/>
<line x1="157.5" y1="426.0" x2="158.0" y2="407.0" stroke="#d88a2a" stroke-width="1.0"/>
<line x1="157.5" y1="426.0" x2="146.0" y2="413.0" stroke="#d88a2a" stroke-width="1.0"/>
<line x1="157.5" y1="426.0" x2="141.0" y2="425.5" stroke="#d88a2a" stroke-width="1.0"/>
<line x1="157.5" y1="426.0" x2="144.5" y2="435.5" stroke="#d88a2a" stroke-width="1.0"/>
<line x1="157.5" y1="426.0" x2="153.0" y2="441.0" stroke="#d88a2a" stroke-width="1.0"/>
<line x1="157.5" y1="426.0" x2="162.0" y2="439.0" stroke="#d88a2a" stroke-width="1.0"/>
<line x1="157.5" y1="426.0" x2="169.5" y2="434.0" stroke="#d88a2a" stroke-width="1.0"/>
<circle cx="157.5" cy="426.0" r="11.0" fill="#e08830"/>
<circle cx="174.5" cy="412.5" r="8.0" fill="#e8a838"/>
<circle cx="158.0" cy="407.0" r="5.0" fill="#eaa432"/>
<circle cx="146.0" cy="413.0" r="4.0" fill="#eaa432"/>
<circle cx="141.0" cy="425.5" r="3.5" fill="#eaa432"/>
<circle cx="144.5" cy="435.5" r="3.5" fill="#eaa432"/>
<circle cx="153.0" cy="441.0" r="3.0" fill="#eaa432"/>
<circle cx="162.0" cy="439.0" r="1.5" fill="#eaa432"/>
<circle cx="169.5" cy="434.0" r="1.2" fill="#eaa432"/>
<line x1="63.5" y1="147.0" x2="63.5" y2="158.0" stroke="#d8a428" stroke-width="2.0"/>
<line x1="63.0" y1="175.0" x2="84.0" y2="152.0" stroke="#e0b020" stroke-width="1.3"/>
<line x1="63.0" y1="175.0" x2="92.0" y2="162.0" stroke="#e0b020" stroke-width="1.3"/>
<line x1="63.0" y1="175.0" x2="93.5" y2="175.0" stroke="#e0b020" stroke-width="1.3"/>
<line x1="63.0" y1="175.0" x2="91.0" y2="186.0" stroke="#e0b020" stroke-width="1.3"/>
<line x1="63.0" y1="175.0" x2="85.1" y2="190.5" stroke="#8a6a18" stroke-width="1.0"/>
<line x1="63.0" y1="175.0" x2="76.5" y2="198.4" stroke="#8a6a18" stroke-width="1.0"/>
<line x1="63.0" y1="175.0" x2="65.4" y2="201.9" stroke="#8a6a18" stroke-width="1.0"/>
<line x1="63.0" y1="175.0" x2="53.8" y2="200.4" stroke="#8a6a18" stroke-width="1.0"/>
<line x1="63.0" y1="175.0" x2="43.9" y2="194.1" stroke="#8a6a18" stroke-width="1.0"/>
<circle cx="64.0" cy="129.5" r="17.5" fill="url(#g50)"/>
<circle cx="63.0" cy="175.0" r="18.0" fill="url(#g51)"/>
<circle cx="84.0" cy="152.0" r="3.5" fill="#f8d41c"/>
<circle cx="92.0" cy="162.0" r="4.0" fill="#f8d41c"/>
<circle cx="93.5" cy="175.0" r="3.5" fill="#f8d41c"/>
<circle cx="91.0" cy="186.0" r="3.0" fill="#f8d41c"/>
<circle cx="49.0" cy="235.0" r="3.5" fill="#d8d8d8"/>
<circle cx="63.5" cy="265.0" r="6.5" fill="#3cb04a"/>
<circle cx="48.0" cy="288.0" r="2.5" fill="#b0186a"/>
<circle cx="62.5" cy="307.0" r="3.5" fill="#b8206e"/>
<circle cx="80.0" cy="323.0" r="2.5" fill="#b01868"/>
<circle cx="98.0" cy="341.0" r="2.0" fill="#b01868"/>
<circle cx="781.0" cy="265.0" r="2.5" fill="#e01830"/>
<circle cx="1215.0" cy="320.0" r="1.5" fill="#50b848"/>
<circle cx="968.0" cy="657.5" r="3.0" fill="#b83a98"/>
<line x1="681.8" y1="178.0" x2="655.5" y2="143.0" stroke="#5a8a40" stroke-width="1.0"/>
<line x1="681.8" y1="178.0" x2="670.5" y2="155.0" stroke="#5a8a40" stroke-width="1.0"/>
<line x1="681.8" y1="178.0" x2="687.0" y2="153.0" stroke="#5a8a40" stroke-width="1.0"/>
<line x1="681.8" y1="178.0" x2="696.5" y2="142.0" stroke="#5a8a40" stroke-width="1.0"/>
<line x1="681.8" y1="178.0" x2="698.0" y2="163.0" stroke="#5a8a40" stroke-width="1.0"/>
<line x1="681.8" y1="178.0" x2="703.0" y2="172.5" stroke="#5a8a40" stroke-width="1.0"/>
<line x1="681.8" y1="178.0" x2="702.5" y2="181.0" stroke="#5a8a40" stroke-width="1.0"/>
<line x1="681.8" y1="178.0" x2="699.5" y2="189.0" stroke="#5a8a40" stroke-width="1.0"/>
<line x1="681.8" y1="178.0" x2="694.5" y2="194.5" stroke="#5a8a40" stroke-width="1.0"/>
<line x1="681.8" y1="178.0" x2="687.5" y2="197.5" stroke="#5a8a40" stroke-width="1.0"/>
<line x1="681.8" y1="178.0" x2="680.0" y2="197.5" stroke="#5a8a40" stroke-width="1.0"/>
<line x1="681.8" y1="178.0" x2="674.0" y2="196.0" stroke="#5a8a40" stroke-width="1.0"/>
<line x1="681.8" y1="178.0" x2="669.0" y2="192.0" stroke="#5a8a40" stroke-width="1.0"/>
<line x1="681.8" y1="178.0" x2="666.0" y2="187.0" stroke="#5a8a40" stroke-width="1.0"/>
<line x1="655.5" y1="143.0" x2="670.5" y2="155.0" stroke="#5a8a40" stroke-width="1.0"/>
<line x1="696.5" y1="142.0" x2="687.0" y2="153.0" stroke="#5a8a40" stroke-width="1.0"/>
<circle cx="681.8" cy="178.0" r="11.0" fill="url(#g52)"/>
<circle cx="655.5" cy="143.0" r="7.5" fill="#e4e2d8"/>
<circle cx="670.5" cy="155.0" r="7.5" fill="#e4e2d8"/>
<circle cx="687.0" cy="153.0" r="7.0" fill="#e4e2d8"/>
<circle cx="696.5" cy="142.0" r="3.5" fill="#e4e2d8"/>
<circle cx="698.0" cy="163.0" r="4.0" fill="#e4e2d8"/>
<circle cx="703.0" cy="172.5" r="3.0" fill="#e4e2d8"/>
<circle cx="702.5" cy="181.0" r="2.5" fill="#e4e2d8"/>
<circle cx="699.5" cy="189.0" r="2.5" fill="#e4e2d8"/>
<circle cx="694.5" cy="194.5" r="2.0" fill="#e4e2d8"/>
<circle cx="687.5" cy="197.5" r="1.5" fill="#e4e2d8"/>
<circle cx="680.0" cy="197.5" r="1.5" fill="#e4e2d8"/>
<circle cx="674.0" cy="196.0" r="1.5" fill="#e4e2d8"/>
<circle cx="669.0" cy="192.0" r="1.5" fill="#e4e2d8"/>
<circle cx="666.0" cy="187.0" r="1.2" fill="#e4e2d8"/>
<line x1="1247.0" y1="226.4" x2="1241.0" y2="184.8" stroke="#4a5aa0" stroke-width="2.0"/>
<line x1="1241.0" y1="184.8" x2="1221.0" y2="166.8" stroke="#2a7ab8" stroke-width="1.2"/>
<line x1="1241.0" y1="184.8" x2="1242.4" y2="161.2" stroke="#2a7ab8" stroke-width="1.2"/>
<line x1="1241.0" y1="184.8" x2="1255.3" y2="167.8" stroke="#2a7ab8" stroke-width="1.2"/>
<line x1="1241.0" y1="184.8" x2="1262.3" y2="180.6" stroke="#2a7ab8" stroke-width="1.2"/>
<line x1="1247.0" y1="226.4" x2="1280.6" y2="213.1" stroke="#4a5aa0" stroke-width="1.2"/>
<line x1="1247.0" y1="226.4" x2="1229.6" y2="252.8" stroke="#4a5aa0" stroke-width="1.2"/>
<line x1="1247.0" y1="226.4" x2="1253.7" y2="260.4" stroke="#4a5aa0" stroke-width="1.2"/>
<circle cx="1247.0" cy="226.4" r="20.8" fill="url(#g53)"/>
<circle cx="1241.0" cy="184.8" r="13.6" fill="url(#g54)"/>
<circle cx="1221.0" cy="166.8" r="10.4" fill="#0f9adb"/>
<circle cx="1242.4" cy="161.2" r="6.8" fill="#0f9adb"/>
<circle cx="1255.3" cy="167.8" r="5.1" fill="#0f9adb"/>
<circle cx="1262.3" cy="180.6" r="4.9" fill="#0f9adb"/>
<circle cx="1280.6" cy="213.1" r="10.4" fill="#4a80c6"/>
<circle cx="1229.6" cy="252.8" r="7.0" fill="#4a80c6"/>
<circle cx="1253.7" cy="260.4" r="9.8" fill="#4a80c6"/>
<circle cx="1299.0" cy="209.7" r="7.6" fill="#0f9adb"/>
<circle cx="1294.4" cy="222.6" r="4.7" fill="#0f9adb"/>
<circle cx="1286.4" cy="228.2" r="3.8" fill="#0f9adb"/>
<circle cx="1278.0" cy="227.9" r="2.3" fill="#0f9adb"/>
<circle cx="1270.7" cy="225.0" r="2.0" fill="#0f9adb"/>
<circle cx="1245.8" cy="274.5" r="4.2" fill="#0f9adb"/>
<circle cx="1263.6" cy="278.3" r="8.9" fill="#0f9adb"/>
<line x1="1234.9" y1="469.0" x2="1234.3" y2="431.2" stroke="#4a7a3a" stroke-width="1.2"/>
<line x1="1234.9" y1="469.0" x2="1257.5" y2="442.9" stroke="#4a7a3a" stroke-width="1.2"/>
<line x1="1234.9" y1="469.0" x2="1263.6" y2="462.2" stroke="#4a7a3a" stroke-width="1.2"/>
<line x1="1234.9" y1="469.0" x2="1260.0" y2="483.1" stroke="#4a7a3a" stroke-width="1.2"/>
<line x1="1234.9" y1="469.0" x2="1242.0" y2="496.7" stroke="#4a7a3a" stroke-width="1.2"/>
<line x1="1234.9" y1="469.0" x2="1228.2" y2="495.8" stroke="#4a7a3a" stroke-width="1.2"/>
<line x1="1234.9" y1="469.0" x2="1214.6" y2="487.3" stroke="#4a7a3a" stroke-width="1.2"/>
<line x1="1234.9" y1="469.0" x2="1208.4" y2="476.0" stroke="#4a7a3a" stroke-width="1.2"/>
<line x1="1234.9" y1="469.0" x2="1209.3" y2="463.7" stroke="#4a7a3a" stroke-width="1.2"/>
<line x1="1234.9" y1="469.0" x2="1212.2" y2="455.6" stroke="#4a7a3a" stroke-width="1.2"/>
<line x1="1234.9" y1="469.0" x2="1218.8" y2="448.0" stroke="#4a7a3a" stroke-width="1.2"/>
<line x1="1263.6" y1="462.2" x2="1276.0" y2="462.2" stroke="#6a6a60" stroke-width="1.0"/>
<line x1="1228.2" y1="495.8" x2="1228.2" y2="503.9" stroke="#6a6a60" stroke-width="1.0"/>
<line x1="1214.6" y1="487.3" x2="1214.0" y2="495.4" stroke="#6a6a60" stroke-width="1.0"/>
<line x1="1208.4" y1="476.0" x2="1202.7" y2="481.3" stroke="#6a6a60" stroke-width="1.0"/>
<circle cx="1234.9" cy="469.0" r="19.8" fill="url(#g55)"/>
<circle cx="1234.3" cy="431.2" r="12.8" fill="#c6c6be"/>
<circle cx="1257.5" cy="442.9" r="10.4" fill="#c6c6be"/>
<circle cx="1263.6" cy="462.2" r="5.1" fill="#c6c6be"/>
<circle cx="1260.0" cy="483.1" r="4.7" fill="#c6c6be"/>
<circle cx="1242.0" cy="496.7" r="4.5" fill="#c6c6be"/>
<circle cx="1228.2" cy="495.8" r="3.2" fill="#c6c6be"/>
<circle cx="1214.6" cy="487.3" r="2.6" fill="#c6c6be"/>
<circle cx="1208.4" cy="476.0" r="2.3" fill="#c6c6be"/>
<circle cx="1209.3" cy="463.7" r="1.5" fill="#c6c6be"/>
<circle cx="1212.2" cy="455.6" r="1.5" fill="#c6c6be"/>
<circle cx="1218.8" cy="448.0" r="1.2" fill="#c6c6be"/>
<circle cx="1276.0" cy="462.2" r="5.1" fill="#c6c6be"/>
<circle cx="1228.2" cy="503.9" r="2.5" fill="#c6c6be"/>
<circle cx="1214.0" cy="495.4" r="2.0" fill="#c6c6be"/>
<circle cx="1202.7" cy="481.3" r="2.3" fill="#c6c6be"/>
<circle cx="1263.6" cy="476.9" r="0.9" fill="#b8b8b0"/>
<circle cx="1266.4" cy="479.7" r="0.9" fill="#b8b8b0"/>
<circle cx="1267.2" cy="483.6" r="0.9" fill="#b8b8b0"/>
<circle cx="1265.8" cy="487.3" r="0.9" fill="#b8b8b0"/>
<circle cx="1262.7" cy="489.8" r="0.9" fill="#b8b8b0"/>
<circle cx="293.0" cy="892.0" r="9.0" fill="#3a4a9c"/>
<circle cx="74.0" cy="891.5" r="1.5" fill="#4a4aa0"/>
<circle cx="436.0" cy="892.5" r="2.5" fill="#c03a98"/>
<text x="329.5" y="260.0" font-size="12.3" fill="#f2f4f8" text-anchor="middle" stroke="#f2f4f8" stroke-width="0.43" stroke-linejoin="round" textLength="86.0" lengthAdjust="spacingAndGlyphs">Benefit spending</text>
<text x="329.5" y="274.0" font-size="12.3" fill="#f2f4f8" text-anchor="middle" stroke="#f2f4f8" stroke-width="0.43" stroke-linejoin="round" textLength="74.5" lengthAdjust="spacingAndGlyphs">in Great Britain</text>
<text x="328.0" y="305.3" font-size="16.0" fill="#f2f4f8" text-anchor="middle" textLength="73.5" lengthAdjust="spacingAndGlyphs">£159.00bn</text>
<text x="328.0" y="324.0" font-size="15.5" fill="#f2f4f8" text-anchor="middle" textLength="51.5" lengthAdjust="spacingAndGlyphs">+1.11%</text>
<text x="491.0" y="245.7" font-size="12.3" fill="#f2f4f8" text-anchor="middle" stroke="#f2f4f8" stroke-width="0.43" stroke-linejoin="round" textLength="78.0" lengthAdjust="spacingAndGlyphs">State pensions</text>
<text x="491.0" y="269.5" font-size="13.5" fill="#f2f4f8" text-anchor="middle" textLength="53.0" lengthAdjust="spacingAndGlyphs">£74.22bn</text>
<text x="492.0" y="284.0" font-size="13.0" fill="#f2f4f8" text-anchor="middle" textLength="34.0" lengthAdjust="spacingAndGlyphs">+3.7%</text>
<text x="625.0" y="280.5" font-size="12.0" fill="#fbe6e6" text-anchor="middle" stroke="#fbe6e6" stroke-width="0.42" stroke-linejoin="round" textLength="65.0" lengthAdjust="spacingAndGlyphs">Debt interest</text>
<text x="662.0" y="276.0" font-size="5.0" fill="#f0b0b0" text-anchor="middle">(1)</text>
<text x="627.0" y="301.0" font-size="11.5" fill="#fbe6e6" text-anchor="middle" textLength="46.5" lengthAdjust="spacingAndGlyphs">£48.20bn</text>
<text x="629.0" y="313.7" font-size="11.0" fill="#fbe6e6" text-anchor="middle" textLength="37.5" lengthAdjust="spacingAndGlyphs">+8.73%</text>
<text x="485.5" y="395.7" font-size="13.3" fill="#f2f4f8" text-anchor="middle" stroke="#f2f4f8" stroke-width="0.47" stroke-linejoin="round" textLength="126.5" lengthAdjust="spacingAndGlyphs">Department for Work</text>
<text x="481.0" y="410.7" font-size="13.3" fill="#f2f4f8" text-anchor="middle" stroke="#f2f4f8" stroke-width="0.47" stroke-linejoin="round" textLength="64.5" lengthAdjust="spacingAndGlyphs">&amp; Pensions</text>
<text x="518.0" y="407.5" font-size="5.5" fill="#c8cce0" text-anchor="middle">(4)</text>
<text x="486.5" y="440.0" font-size="17.5" fill="#f2f4f8" text-anchor="middle" textLength="81.0" lengthAdjust="spacingAndGlyphs">£166.98bn</text>
<text x="486.5" y="461.0" font-size="15.5" fill="#f2f4f8" text-anchor="middle" textLength="47.0" lengthAdjust="spacingAndGlyphs">+1.8%</text>
<text x="703.5" y="443.0" font-size="15.8" fill="#cbcbc5" text-anchor="middle" textLength="197.0" lengthAdjust="spacingAndGlyphs">Total spending, 2011/2012</text>
<text x="703.0" y="493.0" font-size="46.0" fill="#cbcbc5" text-anchor="middle" textLength="224.0" lengthAdjust="spacingAndGlyphs">£694.89bn</text>
<text x="660.0" y="535.0" font-size="29.5" fill="#cbcbc5" text-anchor="middle" textLength="98.0" lengthAdjust="spacingAndGlyphs">-1.58%</text>
<text x="753.0" y="535.0" font-size="13.5" fill="#cbcbc5" text-anchor="middle" textLength="76.5" lengthAdjust="spacingAndGlyphs">change  after</text>
<text x="703.0" y="557.0" font-size="13.5" fill="#cbcbc5" text-anchor="middle" textLength="134.0" lengthAdjust="spacingAndGlyphs">inflation on 2010/2011</text>
<text x="856.0" y="331.0" font-size="14.0" fill="#e9e7df" text-anchor="middle" stroke="#e9e7df" stroke-width="0.49" stroke-linejoin="round" textLength="72.5" lengthAdjust="spacingAndGlyphs">Department</text>
<text x="857.0" y="347.5" font-size="14.0" fill="#e9e7df" text-anchor="middle" stroke="#e9e7df" stroke-width="0.49" stroke-linejoin="round" textLength="54.0" lengthAdjust="spacingAndGlyphs">of Health</text>
<text x="893.0" y="340.0" font-size="5.5" fill="#d8d6ce" text-anchor="middle">(1)</text>
<text x="858.0" y="376.3" font-size="19.0" fill="#e9e7df" text-anchor="middle" textLength="81.5" lengthAdjust="spacingAndGlyphs">£105.60bn</text>
<text x="858.0" y="397.5" font-size="17.0" fill="#e9e7df" text-anchor="middle" textLength="56.0" lengthAdjust="spacingAndGlyphs">+0.28%</text>
<text x="927.5" y="194.0" font-size="9.0" fill="#f3f1ea" text-anchor="middle" textLength="17.0" lengthAdjust="spacingAndGlyphs">NHS</text>
<text x="940.0" y="148.0" font-size="5.0" fill="#f3f1ea" text-anchor="middle">(2)(3)</text>
<text x="927.5" y="213.7" font-size="14.0" fill="#f3f1ea" text-anchor="middle" textLength="53.0" lengthAdjust="spacingAndGlyphs">£87.61bn</text>
<text x="928.5" y="228.0" font-size="13.0" fill="#f3f1ea" text-anchor="middle" textLength="41.5" lengthAdjust="spacingAndGlyphs">+1.29%</text>
<text x="1040.0" y="166.5" font-size="8.5" fill="#f3f1ea" text-anchor="middle">Primary</text>
<text x="1040.0" y="176.0" font-size="8.5" fill="#f3f1ea" text-anchor="middle">healthcare</text>
<text x="1040.0" y="189.7" font-size="10.5" fill="#f3f1ea" text-anchor="middle">£21.37bn</text>
<text x="1040.0" y="201.2" font-size="10.5" fill="#f3f1ea" text-anchor="middle">0.54%</text>
<text x="1033.0" y="290.0" font-size="8.5" fill="#f3f1ea" text-anchor="middle">Secondary</text>
<text x="1033.0" y="299.5" font-size="8.5" fill="#f3f1ea" text-anchor="middle">healthcare</text>
<text x="1033.0" y="310.0" font-size="8.5" fill="#f3f1ea" text-anchor="middle">(hospitals etc)</text>
<text x="1033.0" y="330.5" font-size="10.0" fill="#f3f1ea" text-anchor="middle">£66.13bn</text>
<text x="1033.0" y="342.0" font-size="10.0" fill="#f3f1ea" text-anchor="middle">+7.08%</text>
<text x="1133.0" y="230.3" font-size="8.6" fill="#33332f" text-anchor="middle" textLength="59.5" lengthAdjust="spacingAndGlyphs">General &amp; acute</text>
<text x="1160.0" y="247.5" font-size="6.8" fill="#4a4a46" text-anchor="middle" textLength="28.0" lengthAdjust="spacingAndGlyphs">£28.91bn</text>
<text x="1160.0" y="255.3" font-size="6.8" fill="#4a4a46" text-anchor="middle" textLength="17.0" lengthAdjust="spacingAndGlyphs">+1.9%</text>
<text x="1014.0" y="118.5" font-size="6.0" fill="#4a4a46" text-anchor="middle" textLength="36.0" lengthAdjust="spacingAndGlyphs">Prescriptions</text>
<text x="1015.5" y="128.5" font-size="6.5" fill="#4a4a46" text-anchor="middle">£8.20bn</text>
<text x="1015.5" y="136.0" font-size="6.5" fill="#4a4a46" text-anchor="middle">+1.2%</text>
<text x="1061.0" y="109.5" font-size="5.5" fill="#4a4a46" text-anchor="middle">GP</text>
<text x="1061.0" y="117.0" font-size="5.5" fill="#4a4a46" text-anchor="middle">services</text>
<text x="1061.5" y="127.5" font-size="6.5" fill="#4a4a46" text-anchor="middle">£7.69bn</text>
<text x="1061.5" y="135.0" font-size="6.5" fill="#4a4a46" text-anchor="middle">-1.0%</text>
<text x="1086.0" y="150.5" font-size="5.5" fill="#4a4a46" text-anchor="middle">£2.62bn</text>
<text x="1086.0" y="156.5" font-size="5.5" fill="#4a4a46" text-anchor="middle">+5.15%</text>
<text x="1122.5" y="305.3" font-size="5.8" fill="#4a4a46" text-anchor="middle">Community</text>
<text x="1122.5" y="312.0" font-size="5.8" fill="#4a4a46" text-anchor="middle">health</text>
<text x="1122.5" y="322.0" font-size="5.8" fill="#4a4a46" text-anchor="middle">£8.41bn</text>
<text x="1122.5" y="329.5" font-size="5.8" fill="#4a4a46" text-anchor="middle">+2.5%</text>
<text x="1109.5" y="349.0" font-size="5.8" fill="#4a4a46" text-anchor="middle">Mental</text>
<text x="1109.5" y="355.5" font-size="5.8" fill="#4a4a46" text-anchor="middle">illness</text>
<text x="1109.5" y="365.8" font-size="5.8" fill="#4a4a46" text-anchor="middle">£8.37bn</text>
<text x="1109.5" y="372.8" font-size="5.8" fill="#4a4a46" text-anchor="middle">+0.7%</text>
<text x="979.0" y="371.0" font-size="5.2" fill="#4a4a46" text-anchor="middle">£2.22bn</text>
<text x="979.0" y="377.2" font-size="5.2" fill="#4a4a46" text-anchor="middle">-3.2%</text>
<text x="1009.0" y="389.0" font-size="5.2" fill="#4a4a46" text-anchor="middle">£2.53bn</text>
<text x="1009.0" y="395.2" font-size="5.2" fill="#4a4a46" text-anchor="middle">+2.2%</text>
<text x="1038.0" y="392.0" font-size="5.2" fill="#4a4a46" text-anchor="middle">£2.14bn</text>
<text x="1038.0" y="398.2" font-size="5.2" fill="#4a4a46" text-anchor="middle">+0.2%</text>
<text x="1069.0" y="386.0" font-size="5.2" fill="#4a4a46" text-anchor="middle">£3.05bn</text>
<text x="1069.0" y="392.2" font-size="5.2" fill="#4a4a46" text-anchor="middle">+5.4%</text>
<text x="811.0" y="236.5" font-size="5.5" fill="#d0d0d0" text-anchor="middle">£4.3bn</text>
<text x="956.0" y="452.5" font-size="9.6" fill="#f1d2e4" text-anchor="middle" textLength="70.0" lengthAdjust="spacingAndGlyphs">Education funding</text>
<text x="956.0" y="462.3" font-size="9.6" fill="#f1d2e4" text-anchor="middle" textLength="62.5" lengthAdjust="spacingAndGlyphs">agency (schools)</text>
<text x="955.0" y="481.3" font-size="11.0" fill="#f1d2e4" text-anchor="middle" textLength="41.0" lengthAdjust="spacingAndGlyphs">£51.54bn</text>
<text x="956.0" y="492.7" font-size="11.0" fill="#f1d2e4" text-anchor="middle" textLength="32.5" lengthAdjust="spacingAndGlyphs">+2.76%</text>
<text x="1067.5" y="445.0" font-size="9.0" fill="#e6c4da" text-anchor="middle">Schools</text>
<text x="1067.5" y="454.0" font-size="9.0" fill="#e6c4da" text-anchor="middle" textLength="60.0" lengthAdjust="spacingAndGlyphs">(exc academies)</text>
<text x="1067.5" y="473.3" font-size="10.5" fill="#e6c4da" text-anchor="middle">£46.24bn</text>
<text x="1067.5" y="484.7" font-size="10.5" fill="#e6c4da" text-anchor="middle">-4.31%</text>
<text x="880.0" y="548.8" font-size="10.5" fill="#f1d2e4" text-anchor="middle" textLength="51.5" lengthAdjust="spacingAndGlyphs">Department</text>
<text x="880.0" y="559.3" font-size="10.5" fill="#f1d2e4" text-anchor="middle">for</text>
<text x="880.0" y="570.0" font-size="10.5" fill="#f1d2e4" text-anchor="middle" textLength="43.0" lengthAdjust="spacingAndGlyphs">Education</text>
<text x="883.0" y="593.0" font-size="12.5" fill="#f1d2e4" text-anchor="middle" textLength="46.0" lengthAdjust="spacingAndGlyphs">£56.27bn</text>
<text x="883.0" y="604.0" font-size="11.5" fill="#f1d2e4" text-anchor="middle" textLength="27.5" lengthAdjust="spacingAndGlyphs">-5.7%</text>
<text x="1015.0" y="524.2" font-size="6.5" fill="#ecd0e0" text-anchor="middle">£3.39bn</text>
<text x="1015.0" y="532.2" font-size="6.5" fill="#ecd0e0" text-anchor="middle">+100.4%</text>
<text x="781.0" y="656.5" font-size="7.6" fill="#f2f4f8" text-anchor="middle" textLength="48.0" lengthAdjust="spacingAndGlyphs">HM Revenue</text>
<text x="780.0" y="667.8" font-size="7.6" fill="#f2f4f8" text-anchor="middle" textLength="44.0" lengthAdjust="spacingAndGlyphs">&amp; Customs</text>
<text x="805.0" y="665.0" font-size="4.5" fill="#c0c4e0" text-anchor="middle">(4)</text>
<text x="782.5" y="684.2" font-size="11.0" fill="#f2f4f8" text-anchor="middle" textLength="49.0" lengthAdjust="spacingAndGlyphs">£46.59bn</text>
<text x="781.5" y="696.0" font-size="10.0" fill="#f2f4f8" text-anchor="middle" textLength="25.0" lengthAdjust="spacingAndGlyphs">1.8%</text>
<text x="867.5" y="720.0" font-size="8.5" fill="#e4ecf8" text-anchor="middle">Personal</text>
<text x="867.5" y="729.0" font-size="8.5" fill="#e4ecf8" text-anchor="middle">tax credits</text>
<text x="867.5" y="742.7" font-size="9.0" fill="#e4ecf8" text-anchor="middle">£29.91bn</text>
<text x="867.5" y="751.3" font-size="7.0" fill="#e4ecf8" text-anchor="middle">xx%</text>
<text x="796.0" y="751.5" font-size="7.0" fill="#dce6f6" text-anchor="middle">Child</text>
<text x="796.0" y="759.3" font-size="7.0" fill="#dce6f6" text-anchor="middle">benefit</text>
<text x="796.0" y="769.7" font-size="6.8" fill="#dce6f6" text-anchor="middle">£12.22bn</text>
<text x="796.0" y="777.8" font-size="6.5" fill="#dce6f6" text-anchor="middle">xx%</text>
<text x="648.0" y="668.8" font-size="8.2" fill="#cdeec8" text-anchor="middle" textLength="56.0" lengthAdjust="spacingAndGlyphs">Department of</text>
<text x="648.0" y="679.0" font-size="8.2" fill="#cdeec8" text-anchor="middle" textLength="50.0" lengthAdjust="spacingAndGlyphs">Communities</text>
<text x="648.0" y="689.0" font-size="8.2" fill="#cdeec8" text-anchor="middle" textLength="37.0" lengthAdjust="spacingAndGlyphs">and Local</text>
<text x="648.0" y="699.0" font-size="8.2" fill="#cdeec8" text-anchor="middle" textLength="48.0" lengthAdjust="spacingAndGlyphs">Government</text>
<text x="443.5" y="600.3" font-size="9.0" fill="#dddbd4" text-anchor="middle">Ministry of</text>
<text x="445.0" y="612.0" font-size="9.0" fill="#dddbd4" text-anchor="middle">Defence (5)</text>
<text x="443.5" y="630.7" font-size="11.0" fill="#dddbd4" text-anchor="middle">£23.46bn</text>
<text x="443.5" y="643.3" font-size="11.0" fill="#dddbd4" text-anchor="middle">-1.95%</text>
<text x="408.5" y="516.8" font-size="6.5" fill="#45443f" text-anchor="middle">Equipment</text>
<text x="408.5" y="525.8" font-size="6.5" fill="#45443f" text-anchor="middle">&amp; support</text>
<text x="409.5" y="540.2" font-size="8.0" fill="#45443f" text-anchor="middle">£22.77bn</text>
<text x="409.5" y="550.2" font-size="8.0" fill="#45443f" text-anchor="middle">+31.7%</text>
<text x="375.5" y="575.5" font-size="6.0" fill="#45443f" text-anchor="middle">Army</text>
<text x="375.5" y="587.3" font-size="7.2" fill="#45443f" text-anchor="middle">£7.29bn</text>
<text x="375.5" y="594.3" font-size="6.5" fill="#45443f" text-anchor="middle">+6.7%</text>
<text x="371.3" y="614.0" font-size="5.0" fill="#45443f" text-anchor="middle">Defence</text>
<text x="371.3" y="620.0" font-size="5.0" fill="#45443f" text-anchor="middle">estate</text>
<text x="371.3" y="627.0" font-size="5.2" fill="#45443f" text-anchor="middle">£4.02bn</text>
<text x="371.3" y="633.0" font-size="5.2" fill="#45443f" text-anchor="middle">+5.4%</text>
<text x="353.8" y="658.8" font-size="5.5" fill="#45443f" text-anchor="middle">£3.33bn</text>
<text x="353.8" y="665.2" font-size="5.5" fill="#45443f" text-anchor="middle">-4.1%</text>
<text x="384.2" y="653.2" font-size="5.5" fill="#45443f" text-anchor="middle">£2.87bn</text>
<text x="384.2" y="659.8" font-size="5.5" fill="#45443f" text-anchor="middle">+4.7%</text>
<text x="404.5" y="674.5" font-size="5.5" fill="#45443f" text-anchor="middle">£2.96bn</text>
<text x="404.5" y="681.0" font-size="5.5" fill="#45443f" text-anchor="middle">1.9%</text>
<text x="431.2" y="685.8" font-size="5.5" fill="#45443f" text-anchor="middle">£2.64bn</text>
<text x="431.2" y="692.2" font-size="5.5" fill="#45443f" text-anchor="middle">-8.2%</text>
<text x="460.0" y="682.8" font-size="5.5" fill="#45443f" text-anchor="middle">£2.10bn</text>
<text x="460.0" y="689.2" font-size="5.5" fill="#45443f" text-anchor="middle">+0.7%</text>
<text x="468.0" y="555.0" font-size="5.0" fill="#c4c4c4" text-anchor="middle">£3.6bn</text>
<text x="272.0" y="480.0" font-size="5.5" fill="#c0c0c0" text-anchor="middle">£5.3bn</text>
<text x="858.5" y="795.0" font-size="7.3" fill="#fbe3d0" text-anchor="middle">Department</text>
<text x="858.5" y="804.0" font-size="7.3" fill="#fbe3d0" text-anchor="middle">for Business,</text>
<text x="858.5" y="813.7" font-size="7.3" fill="#fbe3d0" text-anchor="middle">Innovation and</text>
<text x="858.5" y="822.5" font-size="7.3" fill="#fbe3d0" text-anchor="middle">Skills</text>
<text x="858.5" y="832.5" font-size="7.3" fill="#fbe3d0" text-anchor="middle">£24.09bn</text>
<text x="858.5" y="841.8" font-size="7.3" fill="#fbe3d0" text-anchor="middle">-11.52%</text>
<text x="929.8" y="819.7" font-size="5.3" fill="#6f4d12" text-anchor="middle">Higher &amp;</text>
<text x="929.8" y="826.8" font-size="5.3" fill="#6f4d12" text-anchor="middle">further education</text>
<text x="929.8" y="838.8" font-size="8.0" fill="#6f4d12" text-anchor="middle">£18.76bn</text>
<text x="929.8" y="849.0" font-size="8.0" fill="#6f4d12" text-anchor="middle">+3.2%</text>
<text x="990.0" y="848.0" font-size="5.3" fill="#6a5a10" text-anchor="middle">Innovation</text>
<text x="990.0" y="859.5" font-size="7.3" fill="#6a5a10" text-anchor="middle">£14.09bn</text>
<text x="990.0" y="870.0" font-size="7.3" fill="#6a5a10" text-anchor="middle">+11.5%</text>
<text x="871.0" y="866.5" font-size="5.3" fill="#6f4d12" text-anchor="middle">Science</text>
<text x="871.0" y="875.0" font-size="5.5" fill="#6f4d12" text-anchor="middle">£5.48bn</text>
<text x="871.0" y="882.5" font-size="5.5" fill="#6f4d12" text-anchor="middle">-0.5%</text>
<text x="946.0" y="880.5" font-size="5.5" fill="#6a5a10" text-anchor="middle">£4.57bn</text>
<text x="946.0" y="887.5" font-size="5.5" fill="#6a5a10" text-anchor="middle">+3.8%</text>
<text x="842.0" y="888.0" font-size="5.0" fill="#6a5a10" text-anchor="middle">£3.10bn</text>
<text x="842.0" y="894.5" font-size="5.0" fill="#6a5a10" text-anchor="middle">-0.4%</text>
<text x="1058.0" y="865.5" font-size="4.5" fill="#e0e0e0" text-anchor="middle">£1.4bn</text>
<text x="1116.0" y="596.3" font-size="6.8" fill="#f6dcd6" text-anchor="middle">Devolved</text>
<text x="1116.0" y="606.0" font-size="6.8" fill="#f6dcd6" text-anchor="middle">spending</text>
<text x="1116.0" y="615.3" font-size="6.8" fill="#f6dcd6" text-anchor="middle">Wales</text>
<text x="1116.0" y="624.7" font-size="7.0" fill="#f6dcd6" text-anchor="middle">£15.00bn</text>
<text x="1116.0" y="635.0" font-size="7.0" fill="#f6dcd6" text-anchor="middle">-7.6%</text>
<text x="1115.5" y="559.5" font-size="5.5" fill="#f0c8b8" text-anchor="middle">£0.87bn</text>
<text x="1115.5" y="566.5" font-size="5.5" fill="#f0c8b8" text-anchor="middle">xx%</text>
<text x="1152.5" y="578.5" font-size="5.5" fill="#f6d0c0" text-anchor="middle">£4.47bn</text>
<text x="1152.5" y="585.5" font-size="5.5" fill="#f6d0c0" text-anchor="middle">xx%</text>
<text x="1043.8" y="590.5" font-size="5.5" fill="#c4c4c4" text-anchor="middle">£7.3bn</text>
<text x="1231.4" y="805.5" font-size="9.0" fill="#f2f4f8" text-anchor="middle">Devolved</text>
<text x="1231.4" y="816.0" font-size="9.0" fill="#f2f4f8" text-anchor="middle">spending</text>
<text x="1231.4" y="826.7" font-size="9.0" fill="#f2f4f8" text-anchor="middle">Scotland</text>
<text x="1231.4" y="841.8" font-size="11.5" fill="#f2f4f8" text-anchor="middle" textLength="47.0" lengthAdjust="spacingAndGlyphs">£33.52bn</text>
<text x="1231.4" y="855.0" font-size="11.0" fill="#f2f4f8" text-anchor="middle">-5.2%</text>
<text x="1256.7" y="737.8" font-size="6.0" fill="#dfe9f8" text-anchor="middle">Health &amp;</text>
<text x="1256.7" y="744.4" font-size="6.0" fill="#dfe9f8" text-anchor="middle">wellbeing</text>
<text x="1256.7" y="755.6" font-size="8.0" fill="#dfe9f8" text-anchor="middle">£11.47bn</text>
<text x="1256.7" y="763.2" font-size="6.0" fill="#dfe9f8" text-anchor="middle">xx%</text>
<text x="1298.9" y="774.6" font-size="6.0" fill="#dfe9f8" text-anchor="middle">Local</text>
<text x="1298.9" y="782.2" font-size="6.0" fill="#dfe9f8" text-anchor="middle">Government</text>
<text x="1298.9" y="792.4" font-size="7.3" fill="#dfe9f8" text-anchor="middle">£11.23bn</text>
<text x="1298.9" y="801.0" font-size="6.5" fill="#dfe9f8" text-anchor="middle">xx%</text>
<text x="1298.2" y="830.5" font-size="5.5" fill="#dfe9f8" text-anchor="middle">£5.30bn</text>
<text x="1298.2" y="837.5" font-size="5.5" fill="#dfe9f8" text-anchor="middle">xx%</text>
<text x="1285.6" y="860.5" font-size="5.0" fill="#dfe9f8" text-anchor="middle">£2.68bn</text>
<text x="1285.6" y="866.5" font-size="5.0" fill="#dfe9f8" text-anchor="middle">xx%</text>
<text x="1175.0" y="710.5" font-size="3.5" fill="#eee" text-anchor="middle">£0.4bn</text>
<text x="1072.5" y="747.7" font-size="7.5" fill="#d6f2cc" text-anchor="middle">£10.82bn</text>
<text x="1072.5" y="757.7" font-size="7.5" fill="#d6f2cc" text-anchor="middle">+11.8%</text>
<text x="1082.5" y="704.5" font-size="4.8" fill="#6a6412" text-anchor="middle">£4.83bn</text>
<text x="1082.5" y="711.0" font-size="4.8" fill="#6a6412" text-anchor="middle">xx%</text>
<text x="1105.0" y="726.5" font-size="4.2" fill="#6a6412" text-anchor="middle">£1.97bn</text>
<text x="1105.0" y="732.0" font-size="4.2" fill="#6a6412" text-anchor="middle">xx%</text>
<text x="420.0" y="176.3" font-size="7.5" fill="#d9eefa" text-anchor="middle">Housing</text>
<text x="420.0" y="185.3" font-size="7.5" fill="#d9eefa" text-anchor="middle">benefit</text>
<text x="420.0" y="194.7" font-size="7.2" fill="#d9eefa" text-anchor="middle">£16.94bn</text>
<text x="420.0" y="205.3" font-size="7.5" fill="#d9eefa" text-anchor="middle">+5.2%</text>
<text x="364.0" y="153.2" font-size="6.0" fill="#d9eefa" text-anchor="middle">Disability</text>
<text x="364.0" y="160.8" font-size="6.0" fill="#d9eefa" text-anchor="middle" textLength="44.0" lengthAdjust="spacingAndGlyphs">living allowance</text>
<text x="364.0" y="168.8" font-size="6.0" fill="#d9eefa" text-anchor="middle">£12.57bn</text>
<text x="364.0" y="174.7" font-size="5.5" fill="#d9eefa" text-anchor="middle">+3.3%</text>
<text x="311.0" y="162.5" font-size="5.5" fill="#d9eefa" text-anchor="middle">£8.11bn</text>
<text x="311.0" y="169.5" font-size="5.5" fill="#d9eefa" text-anchor="middle">+0.8%</text>
<text x="269.0" y="173.5" font-size="5.3" fill="#d9eefa" text-anchor="middle">Income</text>
<text x="269.0" y="180.0" font-size="5.3" fill="#d9eefa" text-anchor="middle">support</text>
<text x="269.0" y="187.0" font-size="5.3" fill="#d9eefa" text-anchor="middle">£6.92bn</text>
<text x="269.0" y="193.5" font-size="5.3" fill="#d9eefa" text-anchor="middle">-13.2%</text>
<text x="239.0" y="201.5" font-size="5.0" fill="#d9eefa" text-anchor="middle">Rent</text>
<text x="239.0" y="208.0" font-size="5.0" fill="#d9eefa" text-anchor="middle">rebates</text>
<text x="239.0" y="215.0" font-size="5.0" fill="#d9eefa" text-anchor="middle">£5.45bn</text>
<text x="239.0" y="221.5" font-size="5.0" fill="#d9eefa" text-anchor="middle">+0.8%</text>
<text x="219.0" y="243.2" font-size="5.0" fill="#d9eefa" text-anchor="middle">£5.24bn</text>
<text x="219.0" y="249.5" font-size="5.0" fill="#d9eefa" text-anchor="middle">+4.8%</text>
<text x="212.0" y="281.2" font-size="5.0" fill="#d9eefa" text-anchor="middle">£4.99bn</text>
<text x="212.0" y="287.5" font-size="5.0" fill="#d9eefa" text-anchor="middle">13.2%</text>
<text x="215.5" y="315.2" font-size="5.0" fill="#d9eefa" text-anchor="middle">£4.93bn</text>
<text x="215.5" y="321.5" font-size="5.0" fill="#d9eefa" text-anchor="middle">+2.6%</text>
<text x="231.0" y="350.2" font-size="5.0" fill="#d9eefa" text-anchor="middle">£4.81bn</text>
<text x="231.0" y="356.5" font-size="5.0" fill="#d9eefa" text-anchor="middle">+1.7%</text>
<text x="257.0" y="375.2" font-size="5.0" fill="#d9eefa" text-anchor="middle">£3.38bn</text>
<text x="257.0" y="381.5" font-size="5.0" fill="#d9eefa" text-anchor="middle">+26.9%</text>
<text x="284.0" y="389.7" font-size="5.0" fill="#d9eefa" text-anchor="middle">£2.58bn</text>
<text x="284.0" y="396.0" font-size="5.0" fill="#d9eefa" text-anchor="middle">+1.2%</text>
<text x="314.0" y="398.2" font-size="5.0" fill="#d9eefa" text-anchor="middle">£2.47bn</text>
<text x="314.0" y="404.5" font-size="5.0" fill="#d9eefa" text-anchor="middle">-10.2%</text>
<text x="343.0" y="396.7" font-size="5.0" fill="#d9eefa" text-anchor="middle">£2.07bn</text>
<text x="343.0" y="403.0" font-size="5.0" fill="#d9eefa" text-anchor="middle">+0.5%</text>
<text x="64.0" y="128.0" font-size="5.5" fill="#6a5810" text-anchor="middle">£0.03bn</text>
<text x="64.0" y="136.0" font-size="6.0" fill="#6a5810" text-anchor="middle">-26.3%</text>
<text x="63.0" y="170.5" font-size="6.3" fill="#7a5414" text-anchor="middle">£6.12bn</text>
<text x="63.0" y="180.5" font-size="6.5" fill="#7a5414" text-anchor="middle">-26.2%</text>
<text x="167.5" y="478.5" font-size="4.8" fill="#4e5212" text-anchor="middle">Courts &amp;</text>
<text x="167.5" y="484.5" font-size="4.8" fill="#4e5212" text-anchor="middle">judiciary</text>
<text x="167.5" y="491.0" font-size="4.8" fill="#4e5212" text-anchor="middle">£1.2bn</text>
<text x="167.5" y="497.0" font-size="4.8" fill="#4e5212" text-anchor="middle">xx%</text>
<text x="167.5" y="531.5" font-size="6.5" fill="#cfe8c4" text-anchor="middle">£10.19bn</text>
<text x="167.5" y="541.5" font-size="6.5" fill="#cfe8c4" text-anchor="middle">xx%</text>
<text x="168.5" y="644.0" font-size="6.0" fill="#f0cfe6" text-anchor="middle">£8.93bn</text>
<text x="168.5" y="652.5" font-size="6.0" fill="#f0cfe6" text-anchor="middle">xx%</text>
<text x="183.0" y="606.5" font-size="4.8" fill="#f8d0e4" text-anchor="middle">£2.78bn</text>
<text x="183.0" y="612.5" font-size="4.8" fill="#f8d0e4" text-anchor="middle">xx%</text>
<text x="1247.0" y="224.5" font-size="5.8" fill="#e6e6f6" text-anchor="middle">£7.87bn</text>
<text x="1247.0" y="232.5" font-size="5.8" fill="#e6e6f6" text-anchor="middle">xx%</text>
<text x="1241.0" y="183.2" font-size="4.8" fill="#e0ecf8" text-anchor="middle">£3.49bn</text>
<text x="1241.0" y="189.5" font-size="4.8" fill="#e0ecf8" text-anchor="middle">xx%</text>
<text x="1234.3" y="430.0" font-size="4.6" fill="#4a4a46" text-anchor="middle">£2.10bn</text>
<text x="1234.3" y="436.5" font-size="4.6" fill="#4a4a46" text-anchor="middle">-0.7%</text>
<text x="1257.5" y="442.0" font-size="4.2" fill="#4a4a46" text-anchor="middle">£1.41bn</text>
<text x="1257.5" y="448.0" font-size="4.2" fill="#4a4a46" text-anchor="middle">+0.4%</text>
<text x="681.8" y="177.0" font-size="3.6" fill="#2c6a24" text-anchor="middle">£2.20bn</text>
<text x="681.8" y="182.0" font-size="3.6" fill="#2c6a24" text-anchor="middle">-5.3%</text>
<text x="144.0" y="122.5" font-size="8.0" fill="#1f1f1f" text-anchor="start" textLength="91.0" lengthAdjust="spacingAndGlyphs">Department of Energy &amp;</text>
<text x="144.0" y="131.5" font-size="8.0" fill="#1f1f1f" text-anchor="start" textLength="65.0" lengthAdjust="spacingAndGlyphs">Climate Change (1)</text>
<text x="142.5" y="139.5" font-size="4.6" fill="#5c0c0c" text-anchor="start" textLength="22.5" lengthAdjust="spacingAndGlyphs">See note</text>
<text x="565.0" y="122.5" font-size="8.3" fill="#1e1e1e" text-anchor="start" textLength="190.0" lengthAdjust="spacingAndGlyphs">Department for Environment, Food &amp; Rural Affairs (1)</text>
<text x="42.5" y="368.5" font-size="8.0" fill="#1e1e1e" text-anchor="start" textLength="46.5" lengthAdjust="spacingAndGlyphs">Cabinet Office</text>
<text x="42.5" y="379.0" font-size="8.0" fill="#1e1e1e" text-anchor="start" textLength="85.0" lengthAdjust="spacingAndGlyphs">Chancellor’s departments</text>
<text x="42.5" y="389.0" font-size="8.0" fill="#1e1e1e" text-anchor="start" textLength="61.5" lengthAdjust="spacingAndGlyphs">£2.29bn -1.4%</text>
<text x="75.0" y="482.5" font-size="8.0" fill="#1e1e1e" text-anchor="start" textLength="47.5" lengthAdjust="spacingAndGlyphs">Home Office</text>
<text x="42.5" y="597.0" font-size="8.3" fill="#1e1e1e" text-anchor="start" textLength="66.5" lengthAdjust="spacingAndGlyphs">Ministry of Justice</text>
<text x="1146.0" y="414.5" font-size="8.3" fill="#1f1f1f" text-anchor="start" textLength="88.0" lengthAdjust="spacingAndGlyphs">Department for Culture,</text>
<text x="1146.0" y="424.5" font-size="8.3" fill="#1f1f1f" text-anchor="start" textLength="54.0" lengthAdjust="spacingAndGlyphs">Media &amp; Sport</text>
<text x="970.0" y="694.0" font-size="8.8" fill="#1e1e1e" text-anchor="start" textLength="72.0" lengthAdjust="spacingAndGlyphs">Devolved spending</text>
<text x="970.0" y="703.5" font-size="8.8" fill="#1e1e1e" text-anchor="start" textLength="62.0" lengthAdjust="spacingAndGlyphs">Northern Ireland</text>
<text x="1265.0" y="652.0" font-size="7.6" fill="#1d1d1d" text-anchor="start" textLength="82.5" lengthAdjust="spacingAndGlyphs">Foreign &amp; Commonwealth Office</text>
<text x="1265.0" y="660.0" font-size="7.6" fill="#1d1d1d" text-anchor="start" textLength="47.5" lengthAdjust="spacingAndGlyphs">£2.26bn -5.2%</text>
<text x="1272.5" y="674.0" font-size="7.2" fill="#1c1c1c" text-anchor="start" textLength="50.0" lengthAdjust="spacingAndGlyphs">Law Officers’</text>
<text x="1272.5" y="682.0" font-size="7.2" fill="#1c1c1c" text-anchor="start" textLength="45.0" lengthAdjust="spacingAndGlyphs">departments</text>
<text x="1281.0" y="696.0" font-size="7.2" fill="#1c1c1c" text-anchor="start" textLength="55.0" lengthAdjust="spacingAndGlyphs">Scotland Office</text>
<text x="1281.0" y="704.0" font-size="7.2" fill="#1c1c1c" text-anchor="start" textLength="48.0" lengthAdjust="spacingAndGlyphs">£0.06bn -11.2%</text>
<text x="1244.0" y="571.0" font-size="7.2" fill="#1c1c1c" text-anchor="start" textLength="63.5" lengthAdjust="spacingAndGlyphs">Department for Transport</text>
<text x="1244.0" y="578.0" font-size="7.2" fill="#1c1c1c" text-anchor="start" textLength="48.5" lengthAdjust="spacingAndGlyphs">£12.7bn -3.9%</text>
<text x="85.0" y="125.0" font-size="6.2" fill="#191919" text-anchor="start" textLength="19.0" lengthAdjust="spacingAndGlyphs">Depart</text>
<text x="85.0" y="131.0" font-size="6.2" fill="#191919" text-anchor="start" textLength="45.0" lengthAdjust="spacingAndGlyphs">local costs au</text>
<text x="85.0" y="137.5" font-size="6.2" fill="#191919" text-anchor="start" textLength="22.5" lengthAdjust="spacingAndGlyphs">prisons</text>
<text x="292.0" y="124.0" font-size="6.2" fill="#191919" text-anchor="start" textLength="38.0" lengthAdjust="spacingAndGlyphs">lottery equi</text>
<text x="295.0" y="131.0" font-size="6.2" fill="#191919" text-anchor="start" textLength="30.0" lengthAdjust="spacingAndGlyphs">internati</text>
<text x="287.5" y="139.0" font-size="6.2" fill="#191919" text-anchor="start" textLength="47.5" lengthAdjust="spacingAndGlyphs">funding resourc</text>
<text x="89.0" y="152.0" font-size="6.2" fill="#191919" text-anchor="start" textLength="71.0" lengthAdjust="spacingAndGlyphs">council justice museum</text>
<text x="100.0" y="162.0" font-size="6.2" fill="#191919" text-anchor="start" textLength="72.0" lengthAdjust="spacingAndGlyphs">defence care grants cap</text>
<text x="100.0" y="175.0" font-size="6.2" fill="#191919" text-anchor="start" textLength="79.0" lengthAdjust="spacingAndGlyphs">research climate s £4.7bn</text>
<text x="97.5" y="186.0" font-size="6.2" fill="#191919" text-anchor="start" textLength="60.0" lengthAdjust="spacingAndGlyphs">health servi £1.8bn</text>
<text x="75.0" y="196.0" font-size="6.2" fill="#191919" text-anchor="start" textLength="89.0" lengthAdjust="spacingAndGlyphs">development energy media foo</text>
<text x="75.0" y="201.5" font-size="6.2" fill="#191919" text-anchor="start" textLength="89.0" lengthAdjust="spacingAndGlyphs">customs support office polic</text>
<text x="60.0" y="208.0" font-size="6.2" fill="#191919" text-anchor="start" textLength="80.0" lengthAdjust="spacingAndGlyphs">schools culture environme</text>
<text x="50.0" y="215.0" font-size="6.2" fill="#191919" text-anchor="start" textLength="120.0" lengthAdjust="spacingAndGlyphs">revenue programme budget admini £2.3bn</text>
<text x="44.0" y="222.5" font-size="6.2" fill="#191919" text-anchor="start" textLength="112.0" lengthAdjust="spacingAndGlyphs">housing police affairs credits spend</text>
<text x="56.0" y="236.0" font-size="6.2" fill="#191919" text-anchor="start" textLength="46.5" lengthAdjust="spacingAndGlyphs">national centra</text>
<text x="54.0" y="242.0" font-size="6.2" fill="#191919" text-anchor="start" textLength="70.0" lengthAdjust="spacingAndGlyphs">transport courts rural</text>
<text x="56.0" y="249.5" font-size="6.2" fill="#191919" text-anchor="start" textLength="19.0" lengthAdjust="spacingAndGlyphs">pensio</text>
<text x="75.0" y="261.0" font-size="6.2" fill="#191919" text-anchor="start" textLength="61.0" lengthAdjust="spacingAndGlyphs">Department local co</text>
<text x="75.0" y="267.0" font-size="6.2" fill="#191919" text-anchor="start" textLength="84.0" lengthAdjust="spacingAndGlyphs">authority prisons lo £8.9bn</text>
<text x="75.0" y="273.0" font-size="6.2" fill="#191919" text-anchor="start" textLength="87.5" lengthAdjust="spacingAndGlyphs">international funding £5.0bn</text>
<text x="55.0" y="288.0" font-size="6.2" fill="#191919" text-anchor="start" textLength="79.0" lengthAdjust="spacingAndGlyphs">council justice museums d</text>
<text x="55.0" y="295.5" font-size="6.2" fill="#191919" text-anchor="start" textLength="115.0" lengthAdjust="spacingAndGlyphs">care grants capital research c £4.3bn</text>
<text x="71.0" y="307.0" font-size="6.2" fill="#191919" text-anchor="start" textLength="54.0" lengthAdjust="spacingAndGlyphs">sport floo £1.4bn</text>
<text x="71.0" y="314.5" font-size="6.2" fill="#191919" text-anchor="start" textLength="46.5" lengthAdjust="spacingAndGlyphs">services agency</text>
<text x="86.0" y="324.0" font-size="6.2" fill="#191919" text-anchor="start" textLength="40.0" lengthAdjust="spacingAndGlyphs">development</text>
<text x="86.0" y="331.0" font-size="6.2" fill="#191919" text-anchor="start" textLength="49.0" lengthAdjust="spacingAndGlyphs">energy m £3.6bn</text>
<text x="104.0" y="343.0" font-size="6.2" fill="#191919" text-anchor="start" textLength="58.5" lengthAdjust="spacingAndGlyphs">customs sup £8.7bn</text>
<text x="104.0" y="350.5" font-size="6.2" fill="#191919" text-anchor="start" textLength="42.0" lengthAdjust="spacingAndGlyphs">policy school</text>
<text x="170.0" y="238.0" font-size="6.2" fill="#191919" text-anchor="start" textLength="27.5" lengthAdjust="spacingAndGlyphs">culture</text>
<text x="172.5" y="244.5" font-size="6.2" fill="#191919" text-anchor="start" textLength="25.0" lengthAdjust="spacingAndGlyphs">environm</text>
<text x="170.0" y="279.0" font-size="6.2" fill="#191919" text-anchor="start" textLength="25.0" lengthAdjust="spacingAndGlyphs">revenue</text>
<text x="175.0" y="285.5" font-size="6.2" fill="#191919" text-anchor="start" textLength="20.0" lengthAdjust="spacingAndGlyphs">progra</text>
<text x="169.0" y="314.5" font-size="6.2" fill="#191919" text-anchor="start" textLength="28.5" lengthAdjust="spacingAndGlyphs">budget ad</text>
<text x="172.5" y="321.0" font-size="6.2" fill="#191919" text-anchor="start" textLength="25.0" lengthAdjust="spacingAndGlyphs">housing</text>
<text x="194.0" y="349.0" font-size="6.2" fill="#191919" text-anchor="start" textLength="18.5" lengthAdjust="spacingAndGlyphs">polic</text>
<text x="186.0" y="355.5" font-size="6.2" fill="#191919" text-anchor="start" textLength="26.5" lengthAdjust="spacingAndGlyphs">affairs</text>
<text x="201.0" y="375.0" font-size="6.2" fill="#191919" text-anchor="start" textLength="40.0" lengthAdjust="spacingAndGlyphs">credits spen</text>
<text x="194.0" y="383.0" font-size="6.2" fill="#191919" text-anchor="start" textLength="47.0" lengthAdjust="spacingAndGlyphs">national £1.2bn</text>
<text x="234.0" y="396.0" font-size="6.2" fill="#191919" text-anchor="start" textLength="36.0" lengthAdjust="spacingAndGlyphs">transport c</text>
<text x="236.0" y="403.0" font-size="6.2" fill="#191919" text-anchor="start" textLength="34.0" lengthAdjust="spacingAndGlyphs">rural pens</text>
<text x="290.0" y="414.0" font-size="6.2" fill="#191919" text-anchor="start" textLength="30.0" lengthAdjust="spacingAndGlyphs">Departmen</text>
<text x="287.5" y="421.0" font-size="6.2" fill="#191919" text-anchor="start" textLength="32.5" lengthAdjust="spacingAndGlyphs">local cost</text>
<text x="332.5" y="412.5" font-size="6.2" fill="#191919" text-anchor="start" textLength="23.5" lengthAdjust="spacingAndGlyphs">authori</text>
<text x="332.5" y="419.5" font-size="6.2" fill="#191919" text-anchor="start" textLength="23.5" lengthAdjust="spacingAndGlyphs">prisons</text>
<text x="362.5" y="403.0" font-size="6.2" fill="#191919" text-anchor="start" textLength="21.5" lengthAdjust="spacingAndGlyphs">lotter</text>
<text x="362.5" y="410.0" font-size="6.2" fill="#191919" text-anchor="start" textLength="21.5" lengthAdjust="spacingAndGlyphs">equipm</text>
<text x="362.5" y="417.0" font-size="6.2" fill="#191919" text-anchor="start" textLength="21.5" lengthAdjust="spacingAndGlyphs">intern</text>
<text x="362.5" y="424.0" font-size="6.2" fill="#191919" text-anchor="start" textLength="17.5" lengthAdjust="spacingAndGlyphs">fundi</text>
<text x="122.5" y="391.0" font-size="6.2" fill="#191919" text-anchor="start" textLength="37.5" lengthAdjust="spacingAndGlyphs">resource cou</text>
<text x="116.0" y="399.0" font-size="6.2" fill="#191919" text-anchor="start" textLength="44.0" lengthAdjust="spacingAndGlyphs">justice museum</text>
<text x="50.0" y="412.5" font-size="6.2" fill="#191919" text-anchor="start" textLength="85.0" lengthAdjust="spacingAndGlyphs">defence care grants  £4.9bn</text>
<text x="56.0" y="425.0" font-size="6.2" fill="#191919" text-anchor="start" textLength="79.0" lengthAdjust="spacingAndGlyphs">research climate sport fl</text>
<text x="59.0" y="436.0" font-size="6.2" fill="#191919" text-anchor="start" textLength="76.0" lengthAdjust="spacingAndGlyphs">health services agency d</text>
<text x="186.0" y="407.5" font-size="6.2" fill="#191919" text-anchor="start" textLength="18.0" lengthAdjust="spacingAndGlyphs">energ</text>
<text x="186.0" y="414.5" font-size="6.2" fill="#191919" text-anchor="start" textLength="40.0" lengthAdjust="spacingAndGlyphs">media food c</text>
<text x="175.0" y="425.0" font-size="6.2" fill="#191919" text-anchor="start" textLength="62.5" lengthAdjust="spacingAndGlyphs">support offic £5.4bn</text>
<text x="175.0" y="433.0" font-size="6.2" fill="#191919" text-anchor="start" textLength="96.0" lengthAdjust="spacingAndGlyphs">schools culture environment re</text>
<text x="167.5" y="440.5" font-size="6.2" fill="#191919" text-anchor="start" textLength="92.5" lengthAdjust="spacingAndGlyphs">programme budget administrati</text>
<text x="151.0" y="449.0" font-size="6.2" fill="#191919" text-anchor="start" textLength="51.5" lengthAdjust="spacingAndGlyphs">housing police a</text>
<text x="151.0" y="455.5" font-size="6.2" fill="#191919" text-anchor="start" textLength="46.5" lengthAdjust="spacingAndGlyphs">credits  £1.8bn</text>
<text x="292.5" y="470.0" font-size="6.2" fill="#191919" text-anchor="start" textLength="30.0" lengthAdjust="spacingAndGlyphs">national</text>
<text x="292.5" y="478.0" font-size="6.2" fill="#191919" text-anchor="start" textLength="35.0" lengthAdjust="spacingAndGlyphs">central tra</text>
<text x="292.5" y="485.5" font-size="6.2" fill="#191919" text-anchor="start" textLength="17.5" lengthAdjust="spacingAndGlyphs">court</text>
<text x="82.5" y="499.0" font-size="6.2" fill="#191919" text-anchor="start" textLength="47.5" lengthAdjust="spacingAndGlyphs">rural pe £3.0bn</text>
<text x="96.0" y="505.5" font-size="6.2" fill="#191919" text-anchor="start" textLength="34.0" lengthAdjust="spacingAndGlyphs">Department</text>
<text x="81.0" y="521.0" font-size="6.2" fill="#191919" text-anchor="start" textLength="49.0" lengthAdjust="spacingAndGlyphs">local costs aut</text>
<text x="90.0" y="528.0" font-size="6.2" fill="#191919" text-anchor="start" textLength="40.0" lengthAdjust="spacingAndGlyphs">prisons lott</text>
<text x="71.0" y="539.5" font-size="6.2" fill="#191919" text-anchor="start" textLength="49.0" lengthAdjust="spacingAndGlyphs">equipment inter</text>
<text x="72.5" y="546.0" font-size="6.2" fill="#191919" text-anchor="start" textLength="50.0" lengthAdjust="spacingAndGlyphs">funding resource</text>
<text x="85.0" y="554.0" font-size="6.2" fill="#191919" text-anchor="start" textLength="37.5" lengthAdjust="spacingAndGlyphs">council just</text>
<text x="47.5" y="564.0" font-size="6.2" fill="#191919" text-anchor="start" textLength="82.5" lengthAdjust="spacingAndGlyphs">museums defence care grant</text>
<text x="97.5" y="570.5" font-size="6.2" fill="#191919" text-anchor="start" textLength="37.5" lengthAdjust="spacingAndGlyphs">capital rese</text>
<text x="192.5" y="524.0" font-size="6.2" fill="#191919" text-anchor="start" textLength="123.5" lengthAdjust="spacingAndGlyphs">climate sport flood health servi £3.8bn</text>
<text x="197.5" y="534.0" font-size="6.2" fill="#191919" text-anchor="start" textLength="102.5" lengthAdjust="spacingAndGlyphs">development energy media food cus</text>
<text x="192.5" y="544.5" font-size="6.2" fill="#191919" text-anchor="start" textLength="117.5" lengthAdjust="spacingAndGlyphs">support office policy schools culture</text>
<text x="192.5" y="554.0" font-size="6.2" fill="#191919" text-anchor="start" textLength="102.5" lengthAdjust="spacingAndGlyphs">environment revenue programme bud</text>
<text x="185.0" y="564.5" font-size="6.2" fill="#191919" text-anchor="start" textLength="84.0" lengthAdjust="spacingAndGlyphs">administration housing poli</text>
<text x="165.0" y="575.0" font-size="6.2" fill="#191919" text-anchor="start" textLength="91.0" lengthAdjust="spacingAndGlyphs">affairs credits spendi £6.5bn</text>
<text x="42.5" y="610.0" font-size="6.2" fill="#191919" text-anchor="start" textLength="102.5" lengthAdjust="spacingAndGlyphs">central transport courts rural pe</text>
<text x="57.5" y="620.5" font-size="6.2" fill="#191919" text-anchor="start" textLength="72.5" lengthAdjust="spacingAndGlyphs">Department local costs</text>
<text x="57.5" y="634.0" font-size="6.2" fill="#191919" text-anchor="start" textLength="65.0" lengthAdjust="spacingAndGlyphs">authority prisons lo</text>
<text x="49.0" y="639.5" font-size="6.2" fill="#191919" text-anchor="start" textLength="73.5" lengthAdjust="spacingAndGlyphs">equipment international</text>
<text x="60.0" y="655.0" font-size="6.2" fill="#191919" text-anchor="start" textLength="62.5" lengthAdjust="spacingAndGlyphs">funding resource cou</text>
<text x="52.5" y="668.0" font-size="6.2" fill="#191919" text-anchor="start" textLength="77.5" lengthAdjust="spacingAndGlyphs">justice museums defence c</text>
<text x="66.0" y="677.5" font-size="6.2" fill="#191919" text-anchor="start" textLength="76.5" lengthAdjust="spacingAndGlyphs">grants capital research</text>
<text x="66.0" y="687.0" font-size="6.2" fill="#191919" text-anchor="start" textLength="99.0" lengthAdjust="spacingAndGlyphs">climate sport flood health serv</text>
<text x="131.0" y="693.5" font-size="6.2" fill="#191919" text-anchor="start" textLength="34.0" lengthAdjust="spacingAndGlyphs">agency dev</text>
<text x="201.0" y="604.0" font-size="6.2" fill="#191919" text-anchor="start" textLength="74.0" lengthAdjust="spacingAndGlyphs">energy media food custo</text>
<text x="201.0" y="611.0" font-size="6.2" fill="#191919" text-anchor="start" textLength="78.0" lengthAdjust="spacingAndGlyphs">support office policy sch</text>
<text x="194.0" y="626.0" font-size="6.2" fill="#191919" text-anchor="start" textLength="97.0" lengthAdjust="spacingAndGlyphs">culture environment reve £4.9bn</text>
<text x="194.0" y="634.0" font-size="6.2" fill="#191919" text-anchor="start" textLength="118.5" lengthAdjust="spacingAndGlyphs">budget administration housing police a</text>
<text x="197.5" y="642.5" font-size="6.2" fill="#191919" text-anchor="start" textLength="118.5" lengthAdjust="spacingAndGlyphs">credits spending national central tran</text>
<text x="197.5" y="650.0" font-size="6.2" fill="#191919" text-anchor="start" textLength="115.0" lengthAdjust="spacingAndGlyphs">courts rural pensions Departme £5.4bn</text>
<text x="200.0" y="660.0" font-size="6.2" fill="#191919" text-anchor="start" textLength="60.0" lengthAdjust="spacingAndGlyphs">costs author £2.5bn</text>
<text x="195.0" y="666.0" font-size="6.2" fill="#191919" text-anchor="start" textLength="82.5" lengthAdjust="spacingAndGlyphs">lottery equipment i £7.6bn</text>
<text x="192.5" y="672.5" font-size="6.2" fill="#191919" text-anchor="start" textLength="36.5" lengthAdjust="spacingAndGlyphs">funding res</text>
<text x="185.0" y="679.0" font-size="6.2" fill="#191919" text-anchor="start" textLength="65.0" lengthAdjust="spacingAndGlyphs">council justice muse</text>
<text x="172.5" y="687.0" font-size="6.2" fill="#191919" text-anchor="start" textLength="90.0" lengthAdjust="spacingAndGlyphs">defence care grants capital r</text>
<text x="316.0" y="612.5" font-size="6.2" fill="#191919" text-anchor="start" textLength="31.5" lengthAdjust="spacingAndGlyphs">climate sp</text>
<text x="311.0" y="618.5" font-size="6.2" fill="#191919" text-anchor="start" textLength="36.5" lengthAdjust="spacingAndGlyphs">flood healt</text>
<text x="307.5" y="661.0" font-size="6.2" fill="#191919" text-anchor="start" textLength="28.5" lengthAdjust="spacingAndGlyphs">services</text>
<text x="330.0" y="681.0" font-size="6.2" fill="#191919" text-anchor="start" textLength="40.0" lengthAdjust="spacingAndGlyphs">agency devel</text>
<text x="370.0" y="690.0" font-size="6.2" fill="#191919" text-anchor="start" textLength="15.0" lengthAdjust="spacingAndGlyphs">ener</text>
<text x="362.5" y="696.0" font-size="6.2" fill="#191919" text-anchor="start" textLength="22.5" lengthAdjust="spacingAndGlyphs">media f</text>
<text x="450.0" y="526.5" font-size="6.2" fill="#191919" text-anchor="start" textLength="35.0" lengthAdjust="spacingAndGlyphs">customs sup</text>
<text x="450.0" y="534.5" font-size="6.2" fill="#191919" text-anchor="start" textLength="39.0" lengthAdjust="spacingAndGlyphs">office polic</text>
<text x="501.0" y="632.5" font-size="6.2" fill="#191919" text-anchor="start" textLength="41.5" lengthAdjust="spacingAndGlyphs">schools cultu</text>
<text x="501.0" y="639.5" font-size="6.2" fill="#191919" text-anchor="start" textLength="41.5" lengthAdjust="spacingAndGlyphs">environment r</text>
<text x="505.0" y="652.5" font-size="6.2" fill="#191919" text-anchor="start" textLength="32.5" lengthAdjust="spacingAndGlyphs">programme</text>
<text x="505.0" y="659.0" font-size="6.2" fill="#191919" text-anchor="start" textLength="37.5" lengthAdjust="spacingAndGlyphs">budget admin</text>
<text x="496.0" y="669.5" font-size="6.2" fill="#191919" text-anchor="start" textLength="16.5" lengthAdjust="spacingAndGlyphs">housi</text>
<text x="495.0" y="677.0" font-size="6.2" fill="#191919" text-anchor="start" textLength="37.5" lengthAdjust="spacingAndGlyphs">police affai</text>
<text x="594.0" y="142.5" font-size="6.2" fill="#191919" text-anchor="start" textLength="53.5" lengthAdjust="spacingAndGlyphs">credits sp £3.8bn</text>
<text x="607.5" y="148.0" font-size="6.2" fill="#191919" text-anchor="start" textLength="40.0" lengthAdjust="spacingAndGlyphs">national cen</text>
<text x="570.0" y="156.0" font-size="6.2" fill="#191919" text-anchor="start" textLength="82.5" lengthAdjust="spacingAndGlyphs">transport courts ru £5.0bn</text>
<text x="622.5" y="161.5" font-size="6.2" fill="#191919" text-anchor="start" textLength="30.0" lengthAdjust="spacingAndGlyphs">Departmen</text>
<text x="586.0" y="180.5" font-size="6.2" fill="#191919" text-anchor="start" textLength="59.0" lengthAdjust="spacingAndGlyphs">local costs authori</text>
<text x="554.0" y="188.0" font-size="6.2" fill="#191919" text-anchor="start" textLength="103.5" lengthAdjust="spacingAndGlyphs">prisons lottery equipment interna</text>
<text x="586.0" y="196.0" font-size="6.2" fill="#191919" text-anchor="start" textLength="64.0" lengthAdjust="spacingAndGlyphs">funding resource cou</text>
<text x="565.0" y="205.5" font-size="6.2" fill="#191919" text-anchor="start" textLength="92.5" lengthAdjust="spacingAndGlyphs">justice museums defenc £6.5bn</text>
<text x="702.5" y="142.5" font-size="6.2" fill="#191919" text-anchor="start" textLength="81.5" lengthAdjust="spacingAndGlyphs">grants capital research cl</text>
<text x="702.5" y="154.0" font-size="6.2" fill="#191919" text-anchor="start" textLength="67.5" lengthAdjust="spacingAndGlyphs">sport flood health se</text>
<text x="706.0" y="164.0" font-size="6.2" fill="#191919" text-anchor="start" textLength="71.5" lengthAdjust="spacingAndGlyphs">agency development ener</text>
<text x="710.0" y="172.5" font-size="6.2" fill="#191919" text-anchor="start" textLength="90.0" lengthAdjust="spacingAndGlyphs">media food customs support of</text>
<text x="709.0" y="182.0" font-size="6.2" fill="#191919" text-anchor="start" textLength="91.0" lengthAdjust="spacingAndGlyphs">policy schools culture enviro</text>
<text x="706.0" y="190.5" font-size="6.2" fill="#191919" text-anchor="start" textLength="61.5" lengthAdjust="spacingAndGlyphs">revenue programme b</text>
<text x="700.0" y="197.0" font-size="6.2" fill="#191919" text-anchor="start" textLength="89.0" lengthAdjust="spacingAndGlyphs">administration housing polic</text>
<text x="685.0" y="205.0" font-size="6.2" fill="#191919" text-anchor="start" textLength="95.0" lengthAdjust="spacingAndGlyphs">affairs credits spendin £8.5bn</text>
<text x="679.0" y="214.0" font-size="6.2" fill="#191919" text-anchor="start" textLength="85.0" lengthAdjust="spacingAndGlyphs">central transport courts ru</text>
<text x="679.0" y="220.0" font-size="6.2" fill="#191919" text-anchor="start" textLength="40.0" lengthAdjust="spacingAndGlyphs">pensions Dep</text>
<text x="757.5" y="232.5" font-size="6.2" fill="#191919" text-anchor="start" textLength="32.5" lengthAdjust="spacingAndGlyphs">local cost</text>
<text x="757.5" y="240.0" font-size="6.2" fill="#191919" text-anchor="start" textLength="20.0" lengthAdjust="spacingAndGlyphs">author</text>
<text x="786.0" y="265.0" font-size="6.2" fill="#191919" text-anchor="start" textLength="26.0" lengthAdjust="spacingAndGlyphs">prisons</text>
<text x="787.5" y="266.5" font-size="6.2" fill="#191919" text-anchor="start" textLength="66.5" lengthAdjust="spacingAndGlyphs">lottery equipment int</text>
<text x="787.5" y="274.0" font-size="6.2" fill="#191919" text-anchor="start" textLength="48.5" lengthAdjust="spacingAndGlyphs">funding  £1.0bn</text>
<text x="800.0" y="182.5" font-size="6.2" fill="#191919" text-anchor="start" textLength="46.0" lengthAdjust="spacingAndGlyphs">council justic</text>
<text x="800.0" y="172.5" font-size="6.2" fill="#191919" text-anchor="start" textLength="12.0" lengthAdjust="spacingAndGlyphs">mus</text>
<text x="1101.0" y="152.0" font-size="6.2" fill="#191919" text-anchor="start" textLength="19.0" lengthAdjust="spacingAndGlyphs">defenc</text>
<text x="1107.5" y="176.0" font-size="6.2" fill="#191919" text-anchor="start" textLength="25.0" lengthAdjust="spacingAndGlyphs">care gra</text>
<text x="1107.5" y="183.0" font-size="6.2" fill="#191919" text-anchor="start" textLength="36.5" lengthAdjust="spacingAndGlyphs">capital res</text>
<text x="1070.0" y="207.5" font-size="6.2" fill="#191919" text-anchor="start" textLength="21.0" lengthAdjust="spacingAndGlyphs">climat</text>
<text x="1066.0" y="215.0" font-size="6.2" fill="#191919" text-anchor="start" textLength="21.5" lengthAdjust="spacingAndGlyphs">sport</text>
<text x="1067.5" y="222.5" font-size="6.2" fill="#191919" text-anchor="start" textLength="12.5" lengthAdjust="spacingAndGlyphs">floo</text>
<text x="994.0" y="374.0" font-size="6.2" fill="#191919" text-anchor="start" textLength="13.5" lengthAdjust="spacingAndGlyphs">heal</text>
<text x="971.0" y="391.0" font-size="6.2" fill="#191919" text-anchor="start" textLength="26.5" lengthAdjust="spacingAndGlyphs">services</text>
<text x="1084.0" y="385.0" font-size="6.2" fill="#191919" text-anchor="start" textLength="28.5" lengthAdjust="spacingAndGlyphs">agency de</text>
<text x="1084.0" y="392.0" font-size="6.2" fill="#191919" text-anchor="start" textLength="28.5" lengthAdjust="spacingAndGlyphs">energy me</text>
<text x="1050.0" y="404.5" font-size="6.2" fill="#191919" text-anchor="start" textLength="21.0" lengthAdjust="spacingAndGlyphs">food c</text>
<text x="1050.0" y="411.0" font-size="6.2" fill="#191919" text-anchor="start" textLength="21.0" lengthAdjust="spacingAndGlyphs">suppor</text>
<text x="976.0" y="560.0" font-size="6.2" fill="#191919" text-anchor="start" textLength="81.5" lengthAdjust="spacingAndGlyphs">office policy schoo £1.8bn</text>
<text x="976.0" y="566.5" font-size="6.2" fill="#191919" text-anchor="start" textLength="29.0" lengthAdjust="spacingAndGlyphs">environme</text>
<text x="962.5" y="585.5" font-size="6.2" fill="#191919" text-anchor="start" textLength="50.0" lengthAdjust="spacingAndGlyphs">revenue p £6.9bn</text>
<text x="962.5" y="592.5" font-size="6.2" fill="#191919" text-anchor="start" textLength="32.5" lengthAdjust="spacingAndGlyphs">budget adm</text>
<text x="957.5" y="605.0" font-size="6.2" fill="#191919" text-anchor="start" textLength="40.0" lengthAdjust="spacingAndGlyphs">housing poli</text>
<text x="957.5" y="611.5" font-size="6.2" fill="#191919" text-anchor="start" textLength="37.5" lengthAdjust="spacingAndGlyphs">affairs cred</text>
<text x="940.0" y="619.5" font-size="6.2" fill="#191919" text-anchor="start" textLength="17.5" lengthAdjust="spacingAndGlyphs">spend</text>
<text x="927.5" y="627.0" font-size="6.2" fill="#191919" text-anchor="start" textLength="50.0" lengthAdjust="spacingAndGlyphs">national  £5.2bn</text>
<text x="927.5" y="639.0" font-size="6.2" fill="#191919" text-anchor="start" textLength="105.0" lengthAdjust="spacingAndGlyphs">transport courts rural pensions D</text>
<text x="902.5" y="650.0" font-size="6.2" fill="#191919" text-anchor="start" textLength="40.0" lengthAdjust="spacingAndGlyphs">local costs</text>
<text x="865.0" y="649.0" font-size="6.2" fill="#191919" text-anchor="start" textLength="30.0" lengthAdjust="spacingAndGlyphs">authority</text>
<text x="865.0" y="655.5" font-size="6.2" fill="#191919" text-anchor="start" textLength="37.5" lengthAdjust="spacingAndGlyphs">prisons lott</text>
<text x="865.0" y="661.5" font-size="6.2" fill="#191919" text-anchor="start" textLength="25.0" lengthAdjust="spacingAndGlyphs">equipmen</text>
<text x="975.0" y="658.5" font-size="6.2" fill="#191919" text-anchor="start" textLength="51.0" lengthAdjust="spacingAndGlyphs">international fu</text>
<text x="973.0" y="665.5" font-size="6.2" fill="#191919" text-anchor="start" textLength="55.0" lengthAdjust="spacingAndGlyphs">resource c £6.7bn</text>
<text x="973.0" y="672.5" font-size="6.2" fill="#191919" text-anchor="start" textLength="49.0" lengthAdjust="spacingAndGlyphs">justice museums</text>
<text x="1129.0" y="482.5" font-size="6.2" fill="#191919" text-anchor="start" textLength="51.0" lengthAdjust="spacingAndGlyphs">defence care gra</text>
<text x="1150.0" y="498.0" font-size="6.2" fill="#191919" text-anchor="start" textLength="30.0" lengthAdjust="spacingAndGlyphs">capital r</text>
<text x="1145.0" y="515.0" font-size="6.2" fill="#191919" text-anchor="start" textLength="35.0" lengthAdjust="spacingAndGlyphs">climate spo</text>
<text x="1035.0" y="525.5" font-size="6.2" fill="#191919" text-anchor="start" textLength="26.0" lengthAdjust="spacingAndGlyphs">flood he</text>
<text x="1065.0" y="585.5" font-size="6.2" fill="#191919" text-anchor="start" textLength="21.0" lengthAdjust="spacingAndGlyphs">servic</text>
<text x="1065.0" y="592.5" font-size="6.2" fill="#191919" text-anchor="start" textLength="21.0" lengthAdjust="spacingAndGlyphs">agency</text>
<text x="1065.0" y="599.0" font-size="6.2" fill="#191919" text-anchor="start" textLength="19.0" lengthAdjust="spacingAndGlyphs">develo</text>
<text x="1047.5" y="621.0" font-size="6.2" fill="#191919" text-anchor="start" textLength="36.5" lengthAdjust="spacingAndGlyphs">energy medi</text>
<text x="1047.5" y="628.0" font-size="6.2" fill="#191919" text-anchor="start" textLength="36.5" lengthAdjust="spacingAndGlyphs">food custom</text>
<text x="1047.5" y="634.5" font-size="6.2" fill="#191919" text-anchor="start" textLength="32.5" lengthAdjust="spacingAndGlyphs">support of</text>
<text x="1241.5" y="144.0" font-size="6.2" fill="#191919" text-anchor="start" textLength="92.5" lengthAdjust="spacingAndGlyphs">policy schools culture £6.5bn</text>
<text x="1241.0" y="150.0" font-size="6.2" fill="#191919" text-anchor="start" textLength="34.0" lengthAdjust="spacingAndGlyphs">revenue pr</text>
<text x="1262.0" y="162.5" font-size="6.2" fill="#191919" text-anchor="start" textLength="68.0" lengthAdjust="spacingAndGlyphs">budget administration</text>
<text x="1262.0" y="169.0" font-size="6.2" fill="#191919" text-anchor="start" textLength="55.0" lengthAdjust="spacingAndGlyphs">housing police af</text>
<text x="1271.0" y="178.5" font-size="6.2" fill="#191919" text-anchor="start" textLength="82.0" lengthAdjust="spacingAndGlyphs">credits spending national</text>
<text x="1271.0" y="185.0" font-size="6.2" fill="#191919" text-anchor="start" textLength="65.0" lengthAdjust="spacingAndGlyphs">central transport co</text>
<text x="1273.0" y="192.0" font-size="6.2" fill="#191919" text-anchor="start" textLength="52.0" lengthAdjust="spacingAndGlyphs">rural pensions D</text>
<text x="1273.0" y="198.0" font-size="6.2" fill="#191919" text-anchor="start" textLength="35.0" lengthAdjust="spacingAndGlyphs">local costs</text>
<text x="1309.5" y="207.5" font-size="6.2" fill="#191919" text-anchor="start" textLength="28.5" lengthAdjust="spacingAndGlyphs">authority</text>
<text x="1309.5" y="213.0" font-size="6.2" fill="#191919" text-anchor="start" textLength="34.5" lengthAdjust="spacingAndGlyphs">prisons lot</text>
<text x="1303.0" y="222.0" font-size="6.2" fill="#191919" text-anchor="start" textLength="31.0" lengthAdjust="spacingAndGlyphs">equipment</text>
<text x="1303.0" y="227.5" font-size="6.2" fill="#191919" text-anchor="start" textLength="35.0" lengthAdjust="spacingAndGlyphs">internation</text>
<text x="1291.5" y="233.5" font-size="6.2" fill="#191919" text-anchor="start" textLength="57.5" lengthAdjust="spacingAndGlyphs">funding resource c</text>
<text x="1290.5" y="239.5" font-size="6.2" fill="#191919" text-anchor="start" textLength="52.0" lengthAdjust="spacingAndGlyphs">justice museums</text>
<text x="1277.0" y="245.5" font-size="6.2" fill="#191919" text-anchor="start" textLength="60.0" lengthAdjust="spacingAndGlyphs">defence care grants</text>
<text x="1269.0" y="252.0" font-size="6.2" fill="#191919" text-anchor="start" textLength="58.5" lengthAdjust="spacingAndGlyphs">capital research c</text>
<text x="1266.0" y="259.5" font-size="6.2" fill="#191919" text-anchor="start" textLength="55.0" lengthAdjust="spacingAndGlyphs">sport flood healt</text>
<text x="1266.0" y="265.5" font-size="6.2" fill="#191919" text-anchor="start" textLength="32.0" lengthAdjust="spacingAndGlyphs">services a</text>
<text x="1275.5" y="275.5" font-size="6.2" fill="#191919" text-anchor="start" textLength="16.0" lengthAdjust="spacingAndGlyphs">devel</text>
<text x="1275.5" y="281.0" font-size="6.2" fill="#191919" text-anchor="start" textLength="31.0" lengthAdjust="spacingAndGlyphs">energy med</text>
<text x="1244.0" y="291.5" font-size="6.2" fill="#191919" text-anchor="start" textLength="54.0" lengthAdjust="spacingAndGlyphs">food custo £1.0bn</text>
<text x="1244.0" y="297.5" font-size="6.2" fill="#191919" text-anchor="start" textLength="37.0" lengthAdjust="spacingAndGlyphs">office poli</text>
<text x="1210.0" y="140.5" font-size="6.2" fill="#191919" text-anchor="start" textLength="14.5" lengthAdjust="spacingAndGlyphs">scho</text>
<text x="1204.5" y="147.0" font-size="6.2" fill="#191919" text-anchor="start" textLength="20.0" lengthAdjust="spacingAndGlyphs">cultur</text>
<text x="1206.5" y="182.0" font-size="6.2" fill="#191919" text-anchor="start" textLength="18.0" lengthAdjust="spacingAndGlyphs">envir</text>
<text x="1193.0" y="188.5" font-size="6.2" fill="#191919" text-anchor="start" textLength="32.5" lengthAdjust="spacingAndGlyphs">revenue pr</text>
<text x="1214.0" y="264.0" font-size="6.2" fill="#191919" text-anchor="start" textLength="20.0" lengthAdjust="spacingAndGlyphs">budget</text>
<text x="1214.0" y="270.0" font-size="6.2" fill="#191919" text-anchor="start" textLength="20.0" lengthAdjust="spacingAndGlyphs">admini</text>
<text x="1214.0" y="276.5" font-size="6.2" fill="#191919" text-anchor="start" textLength="22.0" lengthAdjust="spacingAndGlyphs">housing</text>
<text x="1214.0" y="282.5" font-size="6.2" fill="#191919" text-anchor="start" textLength="9.0" lengthAdjust="spacingAndGlyphs">po</text>
<text x="1219.0" y="319.5" font-size="6.2" fill="#191919" text-anchor="start" textLength="81.0" lengthAdjust="spacingAndGlyphs">affairs credits spe £2.5bn</text>
<text x="1219.0" y="326.0" font-size="6.2" fill="#191919" text-anchor="start" textLength="53.0" lengthAdjust="spacingAndGlyphs">central transport</text>
<text x="1219.0" y="332.5" font-size="6.2" fill="#191919" text-anchor="start" textLength="43.0" lengthAdjust="spacingAndGlyphs">courts rural</text>
<text x="1219.0" y="339.0" font-size="6.2" fill="#191919" text-anchor="start" textLength="31.0" lengthAdjust="spacingAndGlyphs">pensions D</text>
<text x="1146.0" y="443.0" font-size="6.2" fill="#191919" text-anchor="start" textLength="54.0" lengthAdjust="spacingAndGlyphs">local cost £1.8bn</text>
<text x="1154.0" y="451.0" font-size="6.2" fill="#191919" text-anchor="start" textLength="56.0" lengthAdjust="spacingAndGlyphs">prisons lot £6.9bn</text>
<text x="1166.0" y="457.5" font-size="6.2" fill="#191919" text-anchor="start" textLength="39.0" lengthAdjust="spacingAndGlyphs">internationa</text>
<text x="1145.0" y="464.0" font-size="6.2" fill="#191919" text-anchor="start" textLength="55.0" lengthAdjust="spacingAndGlyphs">funding re £3.0bn</text>
<text x="1135.0" y="471.0" font-size="6.2" fill="#191919" text-anchor="start" textLength="65.0" lengthAdjust="spacingAndGlyphs">council justi £8.1bn</text>
<text x="1165.0" y="476.5" font-size="6.2" fill="#191919" text-anchor="start" textLength="35.0" lengthAdjust="spacingAndGlyphs">defence car</text>
<text x="1127.5" y="482.5" font-size="6.2" fill="#191919" text-anchor="start" textLength="67.5" lengthAdjust="spacingAndGlyphs">grants capital resear</text>
<text x="1115.0" y="489.0" font-size="6.2" fill="#191919" text-anchor="start" textLength="85.0" lengthAdjust="spacingAndGlyphs">climate sport flood  £7.4bn</text>
<text x="1160.0" y="497.0" font-size="6.2" fill="#191919" text-anchor="start" textLength="47.5" lengthAdjust="spacingAndGlyphs">services agency</text>
<text x="1166.0" y="505.0" font-size="6.2" fill="#191919" text-anchor="start" textLength="56.5" lengthAdjust="spacingAndGlyphs">development energy</text>
<text x="1154.0" y="515.0" font-size="6.2" fill="#191919" text-anchor="start" textLength="76.0" lengthAdjust="spacingAndGlyphs">media food customs suppo</text>
<text x="1271.0" y="444.0" font-size="6.2" fill="#191919" text-anchor="start" textLength="34.0" lengthAdjust="spacingAndGlyphs">office pol</text>
<text x="1271.0" y="454.0" font-size="6.2" fill="#191919" text-anchor="start" textLength="55.0" lengthAdjust="spacingAndGlyphs">schools culture e</text>
<text x="1282.5" y="462.5" font-size="6.2" fill="#191919" text-anchor="start" textLength="68.5" lengthAdjust="spacingAndGlyphs">revenue programme budg</text>
<text x="1265.0" y="470.5" font-size="6.2" fill="#191919" text-anchor="start" textLength="89.0" lengthAdjust="spacingAndGlyphs">administration housing polic</text>
<text x="1275.0" y="477.5" font-size="6.2" fill="#191919" text-anchor="start" textLength="66.0" lengthAdjust="spacingAndGlyphs">affairs credits spend</text>
<text x="1275.0" y="485.0" font-size="6.2" fill="#191919" text-anchor="start" textLength="59.0" lengthAdjust="spacingAndGlyphs">national central tr</text>
<text x="1275.0" y="491.0" font-size="6.2" fill="#191919" text-anchor="start" textLength="37.5" lengthAdjust="spacingAndGlyphs">courts rural</text>
<text x="1272.5" y="498.0" font-size="6.2" fill="#191919" text-anchor="start" textLength="77.5" lengthAdjust="spacingAndGlyphs">pensions Departmen £1.4bn</text>
<text x="1270.0" y="504.0" font-size="6.2" fill="#191919" text-anchor="start" textLength="62.5" lengthAdjust="spacingAndGlyphs">costs authori £6.5bn</text>
<text x="1270.0" y="510.5" font-size="6.2" fill="#191919" text-anchor="start" textLength="36.0" lengthAdjust="spacingAndGlyphs">lottery equ</text>
<text x="1270.0" y="517.5" font-size="6.2" fill="#191919" text-anchor="start" textLength="70.0" lengthAdjust="spacingAndGlyphs">international funding</text>
<text x="1237.5" y="506.0" font-size="6.2" fill="#191919" text-anchor="start" textLength="20.0" lengthAdjust="spacingAndGlyphs">resour</text>
<text x="1237.5" y="512.5" font-size="6.2" fill="#191919" text-anchor="start" textLength="20.0" lengthAdjust="spacingAndGlyphs">counci</text>
<text x="1237.5" y="518.5" font-size="6.2" fill="#191919" text-anchor="start" textLength="17.5" lengthAdjust="spacingAndGlyphs">justi</text>
<text x="1136.0" y="551.0" font-size="6.2" fill="#191919" text-anchor="start" textLength="39.0" lengthAdjust="spacingAndGlyphs">museums defe</text>
<text x="1136.0" y="557.0" font-size="6.2" fill="#191919" text-anchor="start" textLength="21.5" lengthAdjust="spacingAndGlyphs">care g</text>
<text x="1172.5" y="575.0" font-size="6.2" fill="#191919" text-anchor="start" textLength="37.5" lengthAdjust="spacingAndGlyphs">capital rese</text>
<text x="1172.5" y="582.0" font-size="6.2" fill="#191919" text-anchor="start" textLength="48.5" lengthAdjust="spacingAndGlyphs">climate sport f</text>
<text x="1175.0" y="601.0" font-size="6.2" fill="#191919" text-anchor="start" textLength="52.5" lengthAdjust="spacingAndGlyphs">health se £4.1bn</text>
<text x="1175.0" y="608.0" font-size="6.2" fill="#191919" text-anchor="start" textLength="61.0" lengthAdjust="spacingAndGlyphs">agency development</text>
<text x="1175.0" y="614.5" font-size="6.2" fill="#191919" text-anchor="start" textLength="32.5" lengthAdjust="spacingAndGlyphs">energy med</text>
<text x="1166.0" y="628.0" font-size="6.2" fill="#191919" text-anchor="start" textLength="51.5" lengthAdjust="spacingAndGlyphs">food customs sup</text>
<text x="1166.0" y="634.5" font-size="6.2" fill="#191919" text-anchor="start" textLength="30.0" lengthAdjust="spacingAndGlyphs">office po</text>
<text x="1151.0" y="643.0" font-size="6.2" fill="#191919" text-anchor="start" textLength="68.0" lengthAdjust="spacingAndGlyphs">schools cultur £8.5bn</text>
<text x="1151.0" y="650.5" font-size="6.2" fill="#191919" text-anchor="start" textLength="61.5" lengthAdjust="spacingAndGlyphs">revenue prog £5.6bn</text>
<text x="1129.0" y="659.5" font-size="6.2" fill="#191919" text-anchor="start" textLength="38.5" lengthAdjust="spacingAndGlyphs">administrati</text>
<text x="1129.0" y="666.0" font-size="6.2" fill="#191919" text-anchor="start" textLength="78.5" lengthAdjust="spacingAndGlyphs">housing police affairs cr</text>
<text x="1060.0" y="646.0" font-size="6.2" fill="#191919" text-anchor="start" textLength="30.0" lengthAdjust="spacingAndGlyphs">spending</text>
<text x="1056.0" y="651.5" font-size="6.2" fill="#191919" text-anchor="start" textLength="34.0" lengthAdjust="spacingAndGlyphs">national c</text>
<text x="1090.0" y="659.0" font-size="6.2" fill="#191919" text-anchor="start" textLength="23.0" lengthAdjust="spacingAndGlyphs">transpo</text>
<text x="1078.0" y="665.5" font-size="6.2" fill="#191919" text-anchor="start" textLength="34.0" lengthAdjust="spacingAndGlyphs">courts rur</text>
<text x="1251.0" y="591.0" font-size="6.2" fill="#191919" text-anchor="start" textLength="98.0" lengthAdjust="spacingAndGlyphs">pensions Department loca £6.1bn</text>
<text x="1251.0" y="599.0" font-size="6.2" fill="#191919" text-anchor="start" textLength="68.0" lengthAdjust="spacingAndGlyphs">authority pris £3.2bn</text>
<text x="1160.0" y="682.0" font-size="6.2" fill="#191919" text-anchor="start" textLength="85.0" lengthAdjust="spacingAndGlyphs">equipment internatio £8.3bn</text>
<text x="1160.0" y="690.0" font-size="6.2" fill="#191919" text-anchor="start" textLength="82.5" lengthAdjust="spacingAndGlyphs">resource council justice m</text>
<text x="1186.0" y="705.0" font-size="6.2" fill="#191919" text-anchor="start" textLength="66.5" lengthAdjust="spacingAndGlyphs">defence care grants c</text>
<text x="1186.0" y="712.0" font-size="6.2" fill="#191919" text-anchor="start" textLength="43.0" lengthAdjust="spacingAndGlyphs">research clim</text>
<text x="951.0" y="718.5" font-size="6.2" fill="#191919" text-anchor="start" textLength="101.0" lengthAdjust="spacingAndGlyphs">sport flood health servic £1.8bn</text>
<text x="943.0" y="727.0" font-size="6.2" fill="#191919" text-anchor="start" textLength="104.0" lengthAdjust="spacingAndGlyphs">development energy media food cus</text>
<text x="919.0" y="735.5" font-size="6.2" fill="#191919" text-anchor="start" textLength="117.0" lengthAdjust="spacingAndGlyphs">support office policy schools culture</text>
<text x="1003.0" y="741.5" font-size="6.2" fill="#191919" text-anchor="start" textLength="33.0" lengthAdjust="spacingAndGlyphs">environmen</text>
<text x="943.0" y="749.5" font-size="6.2" fill="#191919" text-anchor="start" textLength="95.0" lengthAdjust="spacingAndGlyphs">revenue programme budge £2.3bn</text>
<text x="970.0" y="758.0" font-size="6.2" fill="#191919" text-anchor="start" textLength="68.0" lengthAdjust="spacingAndGlyphs">housing police £7.4bn</text>
<text x="948.0" y="768.0" font-size="6.2" fill="#191919" text-anchor="start" textLength="94.0" lengthAdjust="spacingAndGlyphs">credits spending national cent</text>
<text x="929.0" y="777.5" font-size="6.2" fill="#191919" text-anchor="start" textLength="117.0" lengthAdjust="spacingAndGlyphs">transport courts rural pension £6.7bn</text>
<text x="983.0" y="787.0" font-size="6.2" fill="#191919" text-anchor="start" textLength="77.0" lengthAdjust="spacingAndGlyphs">local costs authority pr</text>
<text x="1030.0" y="794.0" font-size="6.2" fill="#191919" text-anchor="start" textLength="33.0" lengthAdjust="spacingAndGlyphs">lottery eq</text>
<text x="1101.0" y="702.5" font-size="6.2" fill="#191919" text-anchor="start" textLength="54.0" lengthAdjust="spacingAndGlyphs">international fun</text>
<text x="1101.0" y="709.0" font-size="6.2" fill="#191919" text-anchor="start" textLength="35.0" lengthAdjust="spacingAndGlyphs">resource co</text>
<text x="1119.0" y="729.0" font-size="6.2" fill="#191919" text-anchor="start" textLength="23.0" lengthAdjust="spacingAndGlyphs">justice</text>
<text x="1122.0" y="748.5" font-size="6.2" fill="#191919" text-anchor="start" textLength="14.0" lengthAdjust="spacingAndGlyphs">muse</text>
<text x="1129.0" y="754.5" font-size="6.2" fill="#191919" text-anchor="start" textLength="21.0" lengthAdjust="spacingAndGlyphs">defenc</text>
<text x="1113.0" y="766.0" font-size="6.2" fill="#191919" text-anchor="start" textLength="63.0" lengthAdjust="spacingAndGlyphs">care grants capital</text>
<text x="1113.0" y="772.5" font-size="6.2" fill="#191919" text-anchor="start" textLength="32.0" lengthAdjust="spacingAndGlyphs">research c</text>
<text x="1098.0" y="782.5" font-size="6.2" fill="#191919" text-anchor="start" textLength="83.0" lengthAdjust="spacingAndGlyphs">sport flood health service</text>
<text x="1072.0" y="794.5" font-size="6.2" fill="#191919" text-anchor="start" textLength="92.0" lengthAdjust="spacingAndGlyphs">agency development energy med</text>
<text x="1035.0" y="816.0" font-size="6.2" fill="#191919" text-anchor="start" textLength="145.0" lengthAdjust="spacingAndGlyphs">food customs support office policy scho £5.8bn</text>
<text x="771.0" y="816.0" font-size="6.2" fill="#191919" text-anchor="start" textLength="33.0" lengthAdjust="spacingAndGlyphs">environmen</text>
<text x="771.0" y="822.5" font-size="6.2" fill="#191919" text-anchor="start" textLength="29.0" lengthAdjust="spacingAndGlyphs">revenue p</text>
<text x="771.0" y="835.0" font-size="6.2" fill="#191919" text-anchor="start" textLength="36.5" lengthAdjust="spacingAndGlyphs">budget admi</text>
<text x="771.0" y="841.5" font-size="6.2" fill="#191919" text-anchor="start" textLength="34.0" lengthAdjust="spacingAndGlyphs">housing po</text>
<text x="771.0" y="856.0" font-size="6.2" fill="#191919" text-anchor="start" textLength="48.0" lengthAdjust="spacingAndGlyphs">affairs  £4.1bn</text>
<text x="782.5" y="862.5" font-size="6.2" fill="#191919" text-anchor="start" textLength="27.5" lengthAdjust="spacingAndGlyphs">spending</text>
<text x="804.0" y="887.5" font-size="6.2" fill="#191919" text-anchor="start" textLength="23.5" lengthAdjust="spacingAndGlyphs">nationa</text>
<text x="807.5" y="895.0" font-size="6.2" fill="#191919" text-anchor="start" textLength="20.0" lengthAdjust="spacingAndGlyphs">centra</text>
<text x="907.5" y="880.0" font-size="6.2" fill="#191919" text-anchor="start" textLength="20.0" lengthAdjust="spacingAndGlyphs">transp</text>
<text x="901.0" y="887.5" font-size="6.2" fill="#191919" text-anchor="start" textLength="26.5" lengthAdjust="spacingAndGlyphs">courts r</text>
<text x="1040.0" y="826.0" font-size="6.2" fill="#191919" text-anchor="start" textLength="60.0" lengthAdjust="spacingAndGlyphs">pensions Department</text>
<text x="1055.0" y="839.0" font-size="6.2" fill="#191919" text-anchor="start" textLength="45.0" lengthAdjust="spacingAndGlyphs">local costs au</text>
<text x="1030.0" y="879.0" font-size="6.2" fill="#191919" text-anchor="start" textLength="57.5" lengthAdjust="spacingAndGlyphs">prisons lottery eq</text>
<text x="1030.0" y="885.5" font-size="6.2" fill="#191919" text-anchor="start" textLength="52.5" lengthAdjust="spacingAndGlyphs">international fu</text>
<text x="1082.5" y="864.0" font-size="6.2" fill="#191919" text-anchor="start" textLength="17.5" lengthAdjust="spacingAndGlyphs">resou</text>
<text x="1282.0" y="703.0" font-size="6.2" fill="#191919" text-anchor="start" textLength="48.0" lengthAdjust="spacingAndGlyphs">council justice</text>
<text x="1140.0" y="754.5" font-size="6.2" fill="#191919" text-anchor="start" textLength="11.0" lengthAdjust="spacingAndGlyphs">mus</text>
<text x="1140.0" y="765.5" font-size="6.2" fill="#191919" text-anchor="start" textLength="35.5" lengthAdjust="spacingAndGlyphs">defence car</text>
<text x="1140.0" y="782.5" font-size="6.2" fill="#191919" text-anchor="start" textLength="41.0" lengthAdjust="spacingAndGlyphs">grants £4.9bn</text>
<text x="1140.0" y="794.5" font-size="6.2" fill="#191919" text-anchor="start" textLength="25.5" lengthAdjust="spacingAndGlyphs">research</text>
<text x="1140.0" y="816.0" font-size="6.2" fill="#191919" text-anchor="start" textLength="33.0" lengthAdjust="spacingAndGlyphs">climate sp</text>
<text x="1140.0" y="826.0" font-size="6.2" fill="#191919" text-anchor="start" textLength="26.5" lengthAdjust="spacingAndGlyphs">flood he</text>
<text x="1140.0" y="839.0" font-size="6.2" fill="#191919" text-anchor="start" textLength="33.0" lengthAdjust="spacingAndGlyphs">services a</text>
<text x="1140.0" y="851.0" font-size="6.2" fill="#191919" text-anchor="start" textLength="30.0" lengthAdjust="spacingAndGlyphs">developme</text>
<text x="1140.0" y="863.0" font-size="6.2" fill="#191919" text-anchor="start" textLength="41.0" lengthAdjust="spacingAndGlyphs">energy media</text>
<text x="1140.0" y="872.0" font-size="6.2" fill="#191919" text-anchor="start" textLength="50.0" lengthAdjust="spacingAndGlyphs">food customs sup</text>
<text x="1158.0" y="878.5" font-size="6.2" fill="#191919" text-anchor="start" textLength="34.0" lengthAdjust="spacingAndGlyphs">office pol</text>
<text x="1140.0" y="890.0" font-size="6.2" fill="#191919" text-anchor="start" textLength="76.5" lengthAdjust="spacingAndGlyphs">schools culture e £2.5bn</text>
<text x="1314.5" y="829.0" font-size="6.2" fill="#191919" text-anchor="start" textLength="30.0" lengthAdjust="spacingAndGlyphs">revenue p</text>
<text x="1314.5" y="835.5" font-size="6.2" fill="#191919" text-anchor="start" textLength="27.5" lengthAdjust="spacingAndGlyphs">budget a</text>
<text x="1314.5" y="842.0" font-size="6.2" fill="#191919" text-anchor="start" textLength="17.5" lengthAdjust="spacingAndGlyphs">housi</text>
<text x="1300.0" y="859.5" font-size="6.2" fill="#191919" text-anchor="start" textLength="31.0" lengthAdjust="spacingAndGlyphs">police aff</text>
<text x="1300.0" y="866.0" font-size="6.2" fill="#191919" text-anchor="start" textLength="43.0" lengthAdjust="spacingAndGlyphs">credit £1.8bn</text>
<text x="1278.0" y="879.0" font-size="6.2" fill="#191919" text-anchor="start" textLength="41.0" lengthAdjust="spacingAndGlyphs">national cent</text>
<text x="1278.0" y="885.5" font-size="6.2" fill="#191919" text-anchor="start" textLength="46.5" lengthAdjust="spacingAndGlyphs">transport court</text>
<text x="1278.0" y="892.0" font-size="6.2" fill="#191919" text-anchor="start" textLength="37.5" lengthAdjust="spacingAndGlyphs">rural pensio</text>
<text x="80.0" y="892.5" font-size="6.2" fill="#191919" text-anchor="start" textLength="110.0" lengthAdjust="spacingAndGlyphs">Department local costs authority pr</text>
<text x="448.0" y="892.5" font-size="6.2" fill="#191919" text-anchor="start" textLength="92.0" lengthAdjust="spacingAndGlyphs">lottery equipment internation</text>
<text x="560.0" y="892.5" font-size="6.2" fill="#191919" text-anchor="start" textLength="80.0" lengthAdjust="spacingAndGlyphs">funding resource council</text>
</svg>
<svg id="ltbg" width="800" height="900" viewBox="0 0 800 900"><rect x="-5" y="704.55" width="774.85" height="179.85" fill="#000" stroke="#908d86" stroke-width="2.7"/></svg>
<div id="lt">
  <div id="ph"><svg width="128" height="128" viewBox="0 0 128 128">
<defs>
<radialGradient id="pbg" cx="0.22" cy="0.5" r="0.95"><stop offset="0" stop-color="#26322f"/><stop offset="0.55" stop-color="#18221f"/><stop offset="1" stop-color="#0b100f"/></radialGradient>
<linearGradient id="skn" x1="0" y1="0" x2="1" y2="0"><stop offset="0" stop-color="#bb8c72"/><stop offset="0.45" stop-color="#ba886c"/><stop offset="0.75" stop-color="#8c5d46"/><stop offset="1" stop-color="#523426"/></linearGradient>
<linearGradient id="hr" x1="0" y1="0" x2="1" y2="0.3"><stop offset="0" stop-color="#9d9890"/><stop offset="0.5" stop-color="#827d76"/><stop offset="1" stop-color="#3f3c39"/></linearGradient>
<linearGradient id="brd" x1="0" y1="0" x2="0" y2="1"><stop offset="0" stop-color="#5a3424"/><stop offset="0.45" stop-color="#5e4030"/><stop offset="0.66" stop-color="#77726d"/><stop offset="0.85" stop-color="#807c78"/><stop offset="1" stop-color="#55524f"/></linearGradient>
<filter id="pb" x="-10%" y="-10%" width="120%" height="120%"><feGaussianBlur stdDeviation="0.9"/></filter>
<filter id="pb2" x="-10%" y="-10%" width="120%" height="120%"><feGaussianBlur stdDeviation="0.45"/></filter>
</defs>
<rect width="128" height="128" fill="url(#pbg)"/>
<g filter="url(#pb)">
<ellipse cx="30" cy="14" rx="9" ry="11" fill="none" stroke="#2c3835" stroke-width="1.2" opacity=".7"/>
<path d="M-2 130 L-2 123 Q22 114 39 102.500 L46 109 L64 126 L89 112 L92.500 97.500 Q112 102 130 110 L130 130Z" fill="#0b0c11"/>
<path d="M46 104 L50 116 Q64 132 89 112 L92 98 Z" fill="#9c6a50"/>
<path d="M30.500 56 Q24 36 31 24 Q40 6 59 0 Q76 -2 86 8 Q97 22 98.500 48 L96 56 L89 44 Q86 28 76 20 Q62 16 46 20 Q37 26 34.500 36 Z" fill="url(#hr)"/>
<path d="M40 11 Q54 1 72 3 Q60 5 52 11 Q46 15 43 21 Z" fill="#cfcbc4" opacity=".8"/>
<path d="M34 34 Q36 22 48 19 Q62 16 76 20 Q86 28 90 46 L96 54 Q97 70 94 84 Q88 102 76 112 Q64 119 52 112 Q40 102 36 86 Q32 60 34 34Z" fill="url(#skn)"/>
<ellipse cx="55" cy="37" rx="16" ry="11" fill="#d9ae92" opacity=".5"/>
<ellipse cx="45" cy="82" rx="7" ry="5" fill="#c57e64" opacity=".55"/>
<ellipse cx="64" cy="78" rx="4.500" ry="6" fill="#d3a084" opacity=".9"/>
<path d="M33.500 70 Q34 96 44 109 Q54 122 64 122.500 Q78 121 88 107 Q96 92 96.500 68 Q92 80 86 85 Q76 83.500 64 84.500 Q52 85 44 89 Q37 84 33.500 70Z" fill="url(#brd)"/>
<path d="M43 93 Q52 85 64 86 Q78 84 90 89.500 Q80 94 64 92 Q52 94.500 43 93Z" fill="#55301f"/>
<path d="M53 94 Q64 99.500 77 93 Q66 95.500 53 94Z" fill="#c48672"/>
<ellipse cx="47.500" cy="62.500" rx="3.600" ry="1.800" fill="#4a6470"/><ellipse cx="77.500" cy="60.300" rx="3.600" ry="1.800" fill="#4a6470"/>
</g>
<g fill="none" stroke="#17100d" stroke-width="2.800" filter="url(#pb2)">
<path d="M31.500 58.500 Q31 57 33 57 L57 56.500 Q59.500 56.500 59 59.500 L57.500 72 Q56.500 76 52 76.300 L38 77 Q34.500 77 33.800 73.500 Z"/>
<path d="M67 55.500 Q67 54 69 54 L91.500 53.200 Q94 53.200 93.500 56 L91.500 68.500 Q90.500 72.500 86 72.800 L73 73.400 Q69.500 73.400 68.800 70 Z"/>
<path d="M59 61 Q63 58.500 67 60"/><path d="M31.500 58 L29 56.500"/><path d="M93.500 55 L97 53"/>
<path d="M31.500 57.500 L59 56.800 M67 54.500 L93.500 53.500" stroke-width="3"/>
</g>
</svg></div>
  <div class="nm" id="n1">Simon Rogers</div>
  <div class="nm" id="n2">&ldquo;Data Journalists are the New Punks&rdquo;</div>
</div>
<div id="ted">
  <div class="t">TED</div><div class="x">x</div>
  <div class="p">Panth&eacute;onSorbonne</div>
  <div class="s"><b>x</b> = independently organized TED event</div>
</div>
</body></html>
